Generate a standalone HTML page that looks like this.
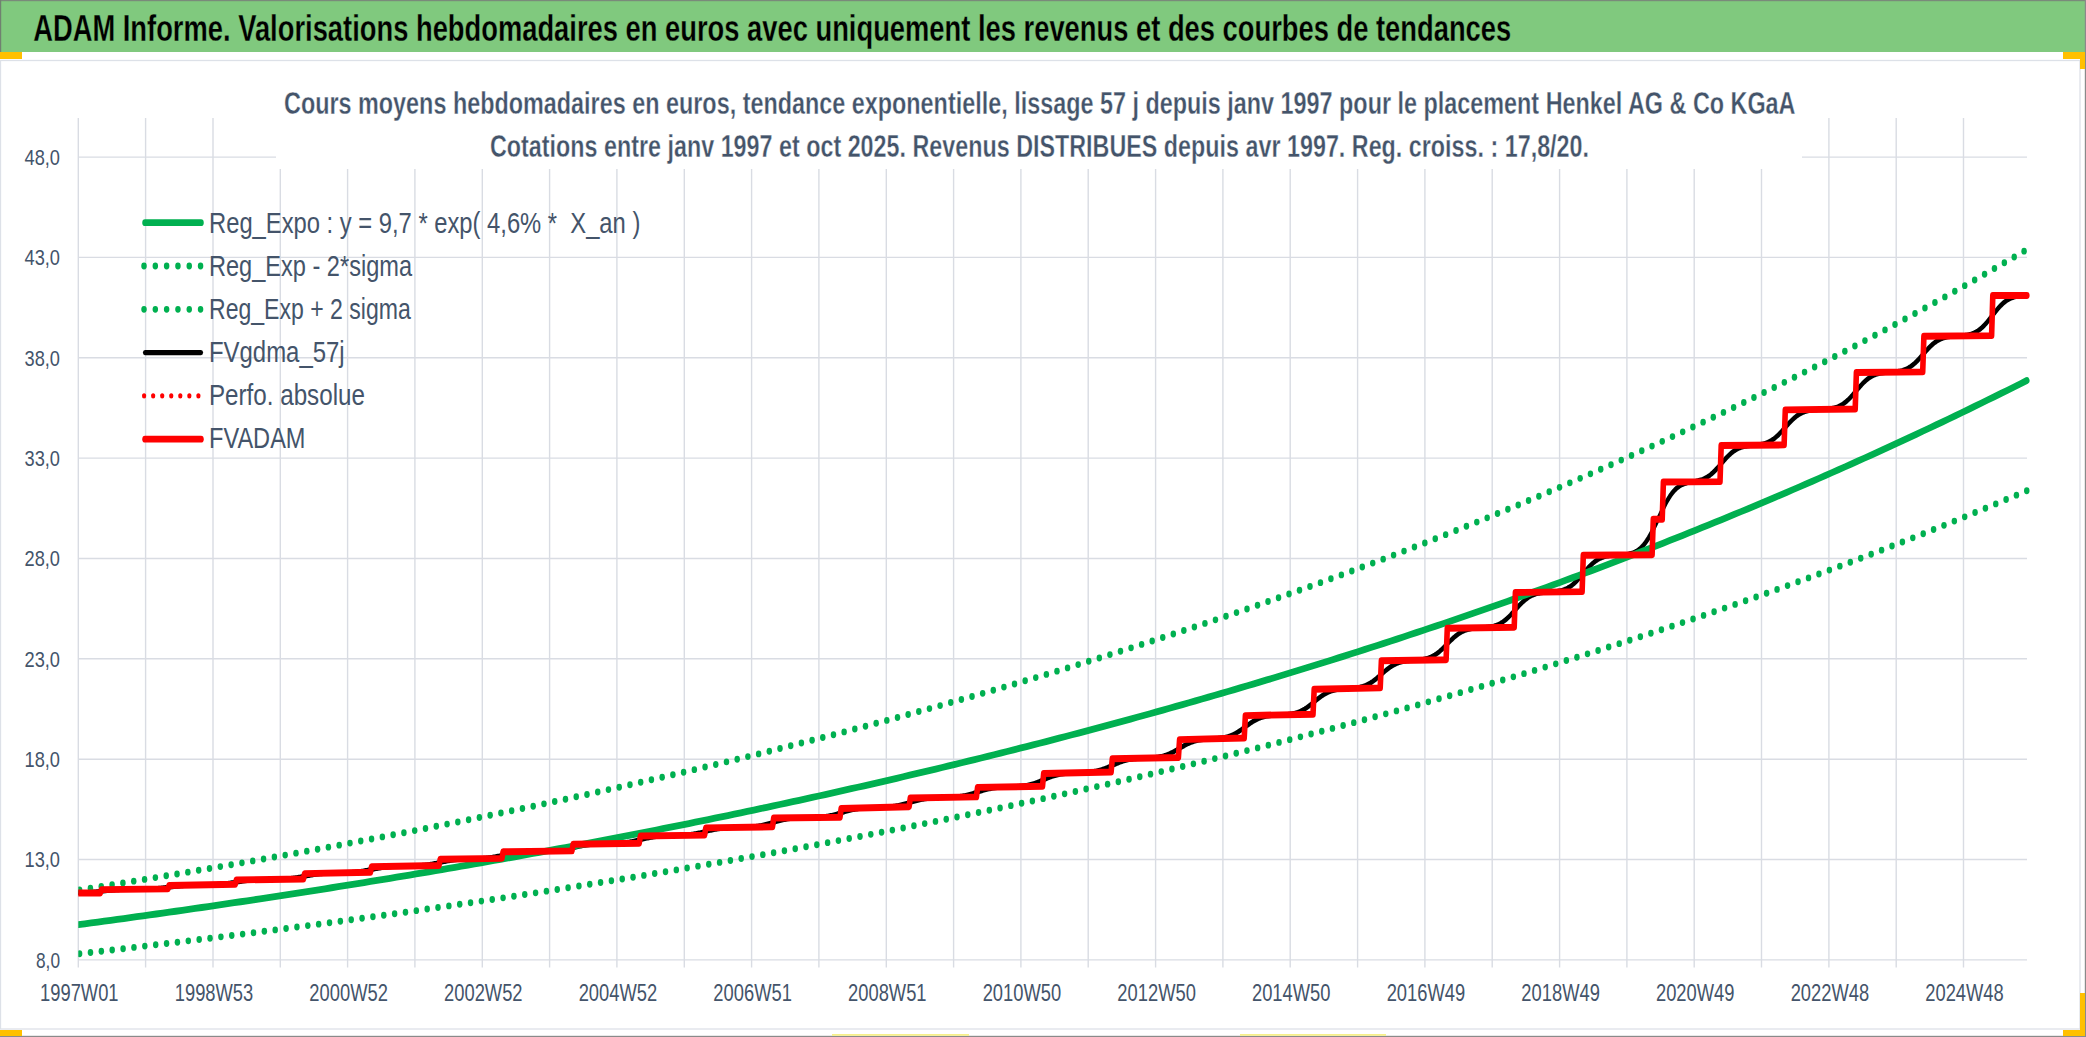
<!DOCTYPE html>
<html><head><meta charset="utf-8"><style>
html,body{margin:0;padding:0;background:#fff;}
body{width:2086px;height:1037px;overflow:hidden;position:relative;}
svg{position:absolute;left:0;top:0;font-family:"Liberation Sans",sans-serif;}
</style></head><body>
<svg width="2086" height="1037" viewBox="0 0 2086 1037">
<rect x="0" y="0" width="2086" height="1037" fill="#fff"/>
<!-- header -->
<rect x="0" y="0" width="2086" height="52" fill="#80C97E"/>
<rect x="0" y="0" width="2086" height="1.2" fill="#7a8a7a"/>
<rect x="0" y="0" width="1.2" height="52" fill="#708070"/>
<rect x="2084.8" y="0" width="1.2" height="1037" fill="#8a8a8a"/>
<rect x="0" y="1035.8" width="2086" height="1.2" fill="#8a8a8a"/>
<text x="33.2" y="41" font-size="36.3" font-weight="bold" fill="#000" stroke="#80C97E" stroke-width="0.3" textLength="1478" lengthAdjust="spacingAndGlyphs">ADAM Informe. Valorisations hebdomadaires en euros avec uniquement les revenus et des courbes de tendances</text>
<!-- chart border -->
<rect x="0.5" y="60.5" width="2079.5" height="968.5" fill="none" stroke="#DDE1E8" stroke-width="1.3"/>
<rect x="0" y="52" width="22" height="7" fill="#FFC000"/>
<rect x="2063" y="52" width="22" height="7" fill="#FFC000"/>
<rect x="2080" y="52" width="5" height="17" fill="#FFC000"/>
<rect x="0" y="1030" width="22" height="6" fill="#FFC000"/>
<rect x="2063" y="1030" width="22" height="6" fill="#FFC000"/>
<rect x="2080" y="993" width="5" height="43" fill="#FFC000"/>
<rect x="832" y="1034" width="137" height="1.8" fill="#F7F08A"/>
<rect x="1240" y="1034" width="146" height="1.8" fill="#F7F08A"/>
<!-- grid -->
<g stroke="#D9DCE3" stroke-width="1.4" fill="none">
<line x1="78.3" y1="118" x2="78.3" y2="967.5" />
<line x1="145.6" y1="118" x2="145.6" y2="967.5" />
<line x1="213.0" y1="118" x2="213.0" y2="967.5" />
<line x1="280.3" y1="169" x2="280.3" y2="967.5" />
<line x1="347.6" y1="169" x2="347.6" y2="967.5" />
<line x1="414.9" y1="169" x2="414.9" y2="967.5" />
<line x1="482.3" y1="169" x2="482.3" y2="967.5" />
<line x1="549.6" y1="169" x2="549.6" y2="967.5" />
<line x1="616.9" y1="169" x2="616.9" y2="967.5" />
<line x1="684.3" y1="169" x2="684.3" y2="967.5" />
<line x1="751.6" y1="169" x2="751.6" y2="967.5" />
<line x1="818.9" y1="169" x2="818.9" y2="967.5" />
<line x1="886.3" y1="169" x2="886.3" y2="967.5" />
<line x1="953.6" y1="169" x2="953.6" y2="967.5" />
<line x1="1020.9" y1="169" x2="1020.9" y2="967.5" />
<line x1="1088.2" y1="169" x2="1088.2" y2="967.5" />
<line x1="1155.6" y1="169" x2="1155.6" y2="967.5" />
<line x1="1222.9" y1="169" x2="1222.9" y2="967.5" />
<line x1="1290.2" y1="169" x2="1290.2" y2="967.5" />
<line x1="1357.6" y1="169" x2="1357.6" y2="967.5" />
<line x1="1424.9" y1="169" x2="1424.9" y2="967.5" />
<line x1="1492.2" y1="169" x2="1492.2" y2="967.5" />
<line x1="1559.6" y1="169" x2="1559.6" y2="967.5" />
<line x1="1626.9" y1="169" x2="1626.9" y2="967.5" />
<line x1="1694.2" y1="169" x2="1694.2" y2="967.5" />
<line x1="1761.5" y1="169" x2="1761.5" y2="967.5" />
<line x1="1828.9" y1="118" x2="1828.9" y2="967.5" />
<line x1="1896.2" y1="118" x2="1896.2" y2="967.5" />
<line x1="1963.5" y1="118" x2="1963.5" y2="967.5" />
<line x1="78" y1="959.9" x2="2027" y2="959.9" />
<line x1="78" y1="859.5" x2="2027" y2="859.5" />
<line x1="78" y1="759.2" x2="2027" y2="759.2" />
<line x1="78" y1="658.8" x2="2027" y2="658.8" />
<line x1="78" y1="558.5" x2="2027" y2="558.5" />
<line x1="78" y1="458.1" x2="2027" y2="458.1" />
<line x1="78" y1="357.8" x2="2027" y2="357.8" />
<line x1="78" y1="257.4" x2="2027" y2="257.4" />
<line x1="78" y1="157.1" x2="276" y2="157.1" />
<line x1="1802" y1="157.1" x2="2027" y2="157.1" />
</g>
<!-- title -->
<text x="284" y="113.9" font-size="31.8" font-weight="bold" fill="#44546A" stroke="#fff" stroke-width="0.35" textLength="1511.5" lengthAdjust="spacingAndGlyphs">Cours moyens hebdomadaires en euros, tendance exponentielle, lissage 57 j depuis janv 1997 pour le placement Henkel AG &amp; Co KGaA</text>
<text x="490" y="157" font-size="30.6" font-weight="bold" fill="#44546A" stroke="#fff" stroke-width="0.35" textLength="1099" lengthAdjust="spacingAndGlyphs">Cotations entre janv 1997 et oct 2025. Revenus DISTRIBUES depuis avr 1997.  Reg. croiss. : 17,8/20.</text>
<text x="60" y="967.7" text-anchor="end" font-size="22.3" fill="#44546A" textLength="24" lengthAdjust="spacingAndGlyphs">8,0</text>
<text x="60" y="867.3" text-anchor="end" font-size="22.3" fill="#44546A" textLength="35.5" lengthAdjust="spacingAndGlyphs">13,0</text>
<text x="60" y="767.0" text-anchor="end" font-size="22.3" fill="#44546A" textLength="35.5" lengthAdjust="spacingAndGlyphs">18,0</text>
<text x="60" y="666.6" text-anchor="end" font-size="22.3" fill="#44546A" textLength="35.5" lengthAdjust="spacingAndGlyphs">23,0</text>
<text x="60" y="566.3" text-anchor="end" font-size="22.3" fill="#44546A" textLength="35.5" lengthAdjust="spacingAndGlyphs">28,0</text>
<text x="60" y="465.9" text-anchor="end" font-size="22.3" fill="#44546A" textLength="35.5" lengthAdjust="spacingAndGlyphs">33,0</text>
<text x="60" y="365.6" text-anchor="end" font-size="22.3" fill="#44546A" textLength="35.5" lengthAdjust="spacingAndGlyphs">38,0</text>
<text x="60" y="265.2" text-anchor="end" font-size="22.3" fill="#44546A" textLength="35.5" lengthAdjust="spacingAndGlyphs">43,0</text>
<text x="60" y="164.9" text-anchor="end" font-size="22.3" fill="#44546A" textLength="35.5" lengthAdjust="spacingAndGlyphs">48,0</text>
<text x="79.3" y="1000.9" text-anchor="middle" font-size="23" fill="#44546A" textLength="78.5" lengthAdjust="spacingAndGlyphs">1997W01</text>
<text x="214.0" y="1000.9" text-anchor="middle" font-size="23" fill="#44546A" textLength="78.5" lengthAdjust="spacingAndGlyphs">1998W53</text>
<text x="348.6" y="1000.9" text-anchor="middle" font-size="23" fill="#44546A" textLength="78.5" lengthAdjust="spacingAndGlyphs">2000W52</text>
<text x="483.3" y="1000.9" text-anchor="middle" font-size="23" fill="#44546A" textLength="78.5" lengthAdjust="spacingAndGlyphs">2002W52</text>
<text x="617.9" y="1000.9" text-anchor="middle" font-size="23" fill="#44546A" textLength="78.5" lengthAdjust="spacingAndGlyphs">2004W52</text>
<text x="752.6" y="1000.9" text-anchor="middle" font-size="23" fill="#44546A" textLength="78.5" lengthAdjust="spacingAndGlyphs">2006W51</text>
<text x="887.3" y="1000.9" text-anchor="middle" font-size="23" fill="#44546A" textLength="78.5" lengthAdjust="spacingAndGlyphs">2008W51</text>
<text x="1021.9" y="1000.9" text-anchor="middle" font-size="23" fill="#44546A" textLength="78.5" lengthAdjust="spacingAndGlyphs">2010W50</text>
<text x="1156.6" y="1000.9" text-anchor="middle" font-size="23" fill="#44546A" textLength="78.5" lengthAdjust="spacingAndGlyphs">2012W50</text>
<text x="1291.2" y="1000.9" text-anchor="middle" font-size="23" fill="#44546A" textLength="78.5" lengthAdjust="spacingAndGlyphs">2014W50</text>
<text x="1425.9" y="1000.9" text-anchor="middle" font-size="23" fill="#44546A" textLength="78.5" lengthAdjust="spacingAndGlyphs">2016W49</text>
<text x="1560.6" y="1000.9" text-anchor="middle" font-size="23" fill="#44546A" textLength="78.5" lengthAdjust="spacingAndGlyphs">2018W49</text>
<text x="1695.2" y="1000.9" text-anchor="middle" font-size="23" fill="#44546A" textLength="78.5" lengthAdjust="spacingAndGlyphs">2020W49</text>
<text x="1829.9" y="1000.9" text-anchor="middle" font-size="23" fill="#44546A" textLength="78.5" lengthAdjust="spacingAndGlyphs">2022W48</text>
<text x="1964.5" y="1000.9" text-anchor="middle" font-size="23" fill="#44546A" textLength="78.5" lengthAdjust="spacingAndGlyphs">2024W48</text>
<text x="209" y="232.7" font-size="29.8" fill="#44546A" textLength="431.3" lengthAdjust="spacingAndGlyphs" xml:space="preserve">Reg_Expo : y = 9,7 * exp( 4,6% *  X_an )</text>
<line x1="145" y1="179.60" x2="201" y2="179.60" stroke="#00B050" stroke-width="5.5" stroke-linecap="round" transform="scale(1,1.24)"/>
<text x="209" y="275.8" font-size="29.8" fill="#44546A" textLength="203.0" lengthAdjust="spacingAndGlyphs" xml:space="preserve">Reg_Exp - 2*sigma</text>
<line x1="144" y1="214.52" x2="202" y2="214.52" stroke="#00B050" stroke-width="5.5" stroke-linecap="round" stroke-dasharray="0.01 11.3" transform="scale(1,1.24)"/>
<text x="209" y="318.9" font-size="29.8" fill="#44546A" textLength="201.8" lengthAdjust="spacingAndGlyphs" xml:space="preserve">Reg_Exp + 2 sigma</text>
<line x1="144" y1="249.44" x2="202" y2="249.44" stroke="#00B050" stroke-width="5.5" stroke-linecap="round" stroke-dasharray="0.01 11.3" transform="scale(1,1.24)"/>
<text x="209" y="362.1" font-size="29.8" fill="#44546A" textLength="135.6" lengthAdjust="spacingAndGlyphs" xml:space="preserve">FVgdma_57j</text>
<line x1="145" y1="284.35" x2="201" y2="284.35" stroke="#000" stroke-width="4.2" stroke-linecap="round" transform="scale(1,1.24)"/>
<text x="209" y="405.2" font-size="29.8" fill="#44546A" textLength="155.9" lengthAdjust="spacingAndGlyphs" xml:space="preserve">Perfo. absolue</text>
<g fill="#FF0000"><ellipse cx="144.10" cy="395.90" rx="2.1" ry="2.7"/><ellipse cx="153.15" cy="395.90" rx="2.1" ry="2.7"/><ellipse cx="162.20" cy="395.90" rx="2.1" ry="2.7"/><ellipse cx="171.25" cy="395.90" rx="2.1" ry="2.7"/><ellipse cx="180.30" cy="395.90" rx="2.1" ry="2.7"/><ellipse cx="189.35" cy="395.90" rx="2.1" ry="2.7"/><ellipse cx="198.40" cy="395.90" rx="2.1" ry="2.7"/></g>
<text x="209" y="448.3" font-size="29.8" fill="#44546A" textLength="96.5" lengthAdjust="spacingAndGlyphs" xml:space="preserve">FVADAM</text>
<line x1="145" y1="354.19" x2="201" y2="354.19" stroke="#FF0000" stroke-width="5.5" stroke-linecap="round" transform="scale(1,1.24)"/>
<!-- series -->
<defs><clipPath id="pc"><rect x="78.3" y="100" width="1960" height="880"/></clipPath></defs>
<g clip-path="url(#pc)">
<g transform="scale(1,1.24)" fill="none" stroke-linejoin="round" stroke-linecap="round">
<path d="M78.80,720.07 L79.80,720.05 L80.80,720.02 L81.80,720.00 L82.80,719.97 L83.80,719.94 L84.80,719.90 L85.80,719.86 L86.80,719.82 L87.80,719.77 L88.80,719.72 L89.80,719.66 L90.80,719.60 L91.80,719.54 L92.80,719.47 L93.80,719.39 L94.80,719.32 L95.80,719.24 L96.80,719.15 L97.80,719.07 L98.80,718.98 L99.80,718.89 L100.80,718.80 L101.80,718.70 L102.80,718.61 L103.80,718.52 L104.80,718.43 L105.80,718.34 L106.80,718.25 L107.80,718.17 L108.80,718.09 L109.80,718.01 L110.80,717.94 L111.80,717.87 L112.80,717.80 L113.80,717.74 L114.80,717.68 L115.80,717.63 L116.80,717.58 L117.80,717.53 L118.80,717.49 L119.80,717.45 L120.80,717.41 L121.80,717.38 L122.80,717.35 L123.80,717.33 L124.80,717.30 L125.80,717.28 L126.80,717.26 L127.80,717.24 L128.80,717.22 L129.80,717.21 L130.80,717.19 L131.80,717.18 L132.80,717.17 L133.80,717.15 L134.80,717.14 L135.80,717.13 L136.80,717.12 L137.80,717.10 L138.80,717.09 L139.80,717.08 L140.80,717.06 L141.80,717.05 L142.80,717.03 L143.80,717.01 L144.80,716.99 L145.80,716.97 L146.80,716.94 L147.80,716.92 L148.80,716.89 L149.80,716.85 L150.80,716.82 L151.80,716.78 L152.80,716.73 L153.80,716.69 L154.80,716.63 L155.80,716.58 L156.80,716.52 L157.80,716.45 L158.80,716.38 L159.80,716.31 L160.80,716.23 L161.80,716.15 L162.80,716.07 L163.80,715.98 L164.80,715.89 L165.80,715.79 L166.80,715.70 L167.80,715.60 L168.80,715.50 L169.80,715.40 L170.80,715.30 L171.80,715.20 L172.80,715.11 L173.80,715.01 L174.80,714.92 L175.80,714.83 L176.80,714.74 L177.80,714.65 L178.80,714.57 L179.80,714.50 L180.80,714.42 L181.80,714.36 L182.80,714.29 L183.80,714.23 L184.80,714.17 L185.80,714.12 L186.80,714.07 L187.80,714.03 L188.80,713.99 L189.80,713.95 L190.80,713.91 L191.80,713.88 L192.80,713.85 L193.80,713.82 L194.80,713.79 L195.80,713.77 L196.80,713.75 L197.80,713.73 L198.80,713.71 L199.80,713.68 L200.80,713.66 L201.80,713.64 L202.80,713.62 L203.80,713.60 L204.80,713.58 L205.80,713.56 L206.80,713.54 L207.80,713.52 L208.80,713.50 L209.80,713.47 L210.80,713.44 L211.80,713.41 L212.80,713.38 L213.80,713.35 L214.80,713.31 L215.80,713.27 L216.80,713.22 L217.80,713.17 L218.80,713.12 L219.80,713.06 L220.80,712.99 L221.80,712.92 L222.80,712.85 L223.80,712.77 L224.80,712.68 L225.80,712.59 L226.80,712.50 L227.80,712.40 L228.80,712.29 L229.80,712.18 L230.80,712.07 L231.80,711.95 L232.80,711.83 L233.80,711.70 L234.80,711.58 L235.80,711.45 L236.80,711.33 L237.80,711.20 L238.80,711.08 L239.80,710.95 L240.80,710.83 L241.80,710.72 L242.80,710.60 L243.80,710.50 L244.80,710.39 L245.80,710.29 L246.80,710.20 L247.80,710.11 L248.80,710.03 L249.80,709.95 L250.80,709.88 L251.80,709.81 L252.80,709.75 L253.80,709.69 L254.80,709.64 L255.80,709.60 L256.80,709.55 L257.80,709.52 L258.80,709.48 L259.80,709.45 L260.80,709.42 L261.80,709.39 L262.80,709.37 L263.80,709.35 L264.80,709.33 L265.80,709.31 L266.80,709.29 L267.80,709.28 L268.80,709.26 L269.80,709.24 L270.80,709.22 L271.80,709.21 L272.80,709.19 L273.80,709.17 L274.80,709.15 L275.80,709.13 L276.80,709.11 L277.80,709.09 L278.80,709.06 L279.80,709.03 L280.80,709.00 L281.80,708.96 L282.80,708.92 L283.80,708.88 L284.80,708.83 L285.80,708.77 L286.80,708.71 L287.80,708.64 L288.80,708.57 L289.80,708.49 L290.80,708.41 L291.80,708.31 L292.80,708.22 L293.80,708.11 L294.80,708.00 L295.80,707.88 L296.80,707.75 L297.80,707.62 L298.80,707.48 L299.80,707.34 L300.80,707.20 L301.80,707.05 L302.80,706.90 L303.80,706.75 L304.80,706.60 L305.80,706.44 L306.80,706.29 L307.80,706.14 L308.80,706.00 L309.80,705.85 L310.80,705.72 L311.80,705.58 L312.80,705.45 L313.80,705.33 L314.80,705.22 L315.80,705.11 L316.80,705.01 L317.80,704.91 L318.80,704.82 L319.80,704.74 L320.80,704.66 L321.80,704.59 L322.80,704.53 L323.80,704.47 L324.80,704.41 L325.80,704.36 L326.80,704.32 L327.80,704.28 L328.80,704.24 L329.80,704.20 L330.80,704.17 L331.80,704.14 L332.80,704.12 L333.80,704.09 L334.80,704.07 L335.80,704.04 L336.80,704.02 L337.80,703.99 L338.80,703.97 L339.80,703.95 L340.80,703.92 L341.80,703.90 L342.80,703.87 L343.80,703.84 L344.80,703.81 L345.80,703.78 L346.80,703.75 L347.80,703.71 L348.80,703.67 L349.80,703.62 L350.80,703.57 L351.80,703.51 L352.80,703.45 L353.80,703.39 L354.80,703.31 L355.80,703.23 L356.80,703.15 L357.80,703.06 L358.80,702.96 L359.80,702.85 L360.80,702.74 L361.80,702.62 L362.80,702.49 L363.80,702.36 L364.80,702.22 L365.80,702.07 L366.80,701.92 L367.80,701.77 L368.80,701.62 L369.80,701.46 L370.80,701.30 L371.80,701.14 L372.80,700.98 L373.80,700.82 L374.80,700.67 L375.80,700.52 L376.80,700.37 L377.80,700.23 L378.80,700.09 L379.80,699.96 L380.80,699.83 L381.80,699.71 L382.80,699.60 L383.80,699.49 L384.80,699.39 L385.80,699.30 L386.80,699.22 L387.80,699.14 L388.80,699.07 L389.80,699.00 L390.80,698.94 L391.80,698.89 L392.80,698.84 L393.80,698.79 L394.80,698.75 L395.80,698.72 L396.80,698.68 L397.80,698.65 L398.80,698.62 L399.80,698.60 L400.80,698.57 L401.80,698.55 L402.80,698.53 L403.80,698.51 L404.80,698.49 L405.80,698.47 L406.80,698.45 L407.80,698.42 L408.80,698.40 L409.80,698.38 L410.80,698.36 L411.80,698.33 L412.80,698.31 L413.80,698.28 L414.80,698.24 L415.80,698.21 L416.80,698.17 L417.80,698.13 L418.80,698.08 L419.80,698.02 L420.80,697.97 L421.80,697.90 L422.80,697.83 L423.80,697.75 L424.80,697.67 L425.80,697.58 L426.80,697.48 L427.80,697.37 L428.80,697.26 L429.80,697.13 L430.80,697.01 L431.80,696.87 L432.80,696.72 L433.80,696.57 L434.80,696.42 L435.80,696.26 L436.80,696.09 L437.80,695.92 L438.80,695.75 L439.80,695.58 L440.80,695.41 L441.80,695.24 L442.80,695.06 L443.80,694.90 L444.80,694.73 L445.80,694.57 L446.80,694.42 L447.80,694.27 L448.80,694.13 L449.80,693.99 L450.80,693.86 L451.80,693.74 L452.80,693.63 L453.80,693.52 L454.80,693.43 L455.80,693.34 L456.80,693.25 L457.80,693.18 L458.80,693.11 L459.80,693.05 L460.80,692.99 L461.80,692.94 L462.80,692.90 L463.80,692.85 L464.80,692.82 L465.80,692.78 L466.80,692.75 L467.80,692.72 L468.80,692.69 L469.80,692.67 L470.80,692.64 L471.80,692.62 L472.80,692.59 L473.80,692.57 L474.80,692.54 L475.80,692.51 L476.80,692.48 L477.80,692.45 L478.80,692.41 L479.80,692.37 L480.80,692.33 L481.80,692.28 L482.80,692.23 L483.80,692.17 L484.80,692.11 L485.80,692.03 L486.80,691.95 L487.80,691.87 L488.80,691.77 L489.80,691.67 L490.80,691.56 L491.80,691.44 L492.80,691.32 L493.80,691.18 L494.80,691.04 L495.80,690.89 L496.80,690.73 L497.80,690.57 L498.80,690.40 L499.80,690.23 L500.80,690.05 L501.80,689.87 L502.80,689.69 L503.80,689.51 L504.80,689.33 L505.80,689.15 L506.80,688.97 L507.80,688.80 L508.80,688.63 L509.80,688.47 L510.80,688.31 L511.80,688.16 L512.80,688.02 L513.80,687.89 L514.80,687.76 L515.80,687.64 L516.80,687.53 L517.80,687.43 L518.80,687.34 L519.80,687.25 L520.80,687.17 L521.80,687.10 L522.80,687.04 L523.80,686.98 L524.80,686.93 L525.80,686.88 L526.80,686.84 L527.80,686.80 L528.80,686.77 L529.80,686.74 L530.80,686.71 L531.80,686.69 L532.80,686.67 L533.80,686.65 L534.80,686.63 L535.80,686.61 L536.80,686.60 L537.80,686.58 L538.80,686.56 L539.80,686.54 L540.80,686.53 L541.80,686.51 L542.80,686.49 L543.80,686.47 L544.80,686.45 L545.80,686.42 L546.80,686.40 L547.80,686.37 L548.80,686.33 L549.80,686.29 L550.80,686.25 L551.80,686.21 L552.80,686.15 L553.80,686.09 L554.80,686.03 L555.80,685.96 L556.80,685.88 L557.80,685.79 L558.80,685.70 L559.80,685.59 L560.80,685.48 L561.80,685.36 L562.80,685.24 L563.80,685.10 L564.80,684.96 L565.80,684.81 L566.80,684.65 L567.80,684.48 L568.80,684.31 L569.80,684.14 L570.80,683.96 L571.80,683.78 L572.80,683.59 L573.80,683.41 L574.80,683.23 L575.80,683.05 L576.80,682.87 L577.80,682.69 L578.80,682.52 L579.80,682.36 L580.80,682.20 L581.80,682.05 L582.80,681.90 L583.80,681.77 L584.80,681.64 L585.80,681.52 L586.80,681.41 L587.80,681.31 L588.80,681.21 L589.80,681.12 L590.80,681.04 L591.80,680.97 L592.80,680.91 L593.80,680.85 L594.80,680.80 L595.80,680.75 L596.80,680.71 L597.80,680.67 L598.80,680.63 L599.80,680.60 L600.80,680.57 L601.80,680.55 L602.80,680.53 L603.80,680.50 L604.80,680.48 L605.80,680.46 L606.80,680.44 L607.80,680.42 L608.80,680.40 L609.80,680.38 L610.80,680.35 L611.80,680.33 L612.80,680.30 L613.80,680.28 L614.80,680.24 L615.80,680.21 L616.80,680.17 L617.80,680.12 L618.80,680.07 L619.80,680.02 L620.80,679.95 L621.80,679.88 L622.80,679.81 L623.80,679.72 L624.80,679.63 L625.80,679.53 L626.80,679.42 L627.80,679.30 L628.80,679.17 L629.80,679.03 L630.80,678.89 L631.80,678.73 L632.80,678.57 L633.80,678.40 L634.80,678.22 L635.80,678.04 L636.80,677.85 L637.80,677.66 L638.80,677.47 L639.80,677.27 L640.80,677.07 L641.80,676.87 L642.80,676.68 L643.80,676.49 L644.80,676.30 L645.80,676.12 L646.80,675.94 L647.80,675.77 L648.80,675.60 L649.80,675.45 L650.80,675.30 L651.80,675.16 L652.80,675.03 L653.80,674.91 L654.80,674.80 L655.80,674.70 L656.80,674.61 L657.80,674.52 L658.80,674.44 L659.80,674.37 L660.80,674.31 L661.80,674.25 L662.80,674.20 L663.80,674.15 L664.80,674.11 L665.80,674.07 L666.80,674.04 L667.80,674.01 L668.80,673.98 L669.80,673.95 L670.80,673.92 L671.80,673.90 L672.80,673.87 L673.80,673.85 L674.80,673.82 L675.80,673.80 L676.80,673.77 L677.80,673.74 L678.80,673.71 L679.80,673.67 L680.80,673.64 L681.80,673.60 L682.80,673.55 L683.80,673.50 L684.80,673.44 L685.80,673.38 L686.80,673.30 L687.80,673.23 L688.80,673.14 L689.80,673.05 L690.80,672.94 L691.80,672.83 L692.80,672.71 L693.80,672.58 L694.80,672.44 L695.80,672.29 L696.80,672.14 L697.80,671.98 L698.80,671.80 L699.80,671.63 L700.80,671.44 L701.80,671.25 L702.80,671.06 L703.80,670.86 L704.80,670.67 L705.80,670.47 L706.80,670.27 L707.80,670.07 L708.80,669.88 L709.80,669.69 L710.80,669.51 L711.80,669.33 L712.80,669.16 L713.80,668.99 L714.80,668.83 L715.80,668.69 L716.80,668.55 L717.80,668.42 L718.80,668.30 L719.80,668.18 L720.80,668.08 L721.80,667.99 L722.80,667.90 L723.80,667.82 L724.80,667.75 L725.80,667.68 L726.80,667.63 L727.80,667.57 L728.80,667.53 L729.80,667.48 L730.80,667.45 L731.80,667.41 L732.80,667.38 L733.80,667.35 L734.80,667.33 L735.80,667.30 L736.80,667.28 L737.80,667.25 L738.80,667.23 L739.80,667.21 L740.80,667.18 L741.80,667.16 L742.80,667.13 L743.80,667.11 L744.80,667.08 L745.80,667.05 L746.80,667.01 L747.80,666.97 L748.80,666.93 L749.80,666.88 L750.80,666.83 L751.80,666.77 L752.80,666.70 L753.80,666.62 L754.80,666.54 L755.80,666.44 L756.80,666.34 L757.80,666.23 L758.80,666.10 L759.80,665.97 L760.80,665.83 L761.80,665.67 L762.80,665.50 L763.80,665.33 L764.80,665.14 L765.80,664.94 L766.80,664.74 L767.80,664.52 L768.80,664.30 L769.80,664.07 L770.80,663.84 L771.80,663.60 L772.80,663.37 L773.80,663.13 L774.80,662.89 L775.80,662.65 L776.80,662.42 L777.80,662.20 L778.80,661.98 L779.80,661.76 L780.80,661.56 L781.80,661.36 L782.80,661.18 L783.80,661.00 L784.80,660.84 L785.80,660.68 L786.80,660.54 L787.80,660.41 L788.80,660.29 L789.80,660.18 L790.80,660.08 L791.80,659.99 L792.80,659.91 L793.80,659.83 L794.80,659.77 L795.80,659.71 L796.80,659.66 L797.80,659.61 L798.80,659.57 L799.80,659.54 L800.80,659.51 L801.80,659.48 L802.80,659.45 L803.80,659.43 L804.80,659.41 L805.80,659.39 L806.80,659.37 L807.80,659.34 L808.80,659.32 L809.80,659.30 L810.80,659.28 L811.80,659.26 L812.80,659.23 L813.80,659.20 L814.80,659.17 L815.80,659.14 L816.80,659.10 L817.80,659.05 L818.80,659.00 L819.80,658.94 L820.80,658.87 L821.80,658.80 L822.80,658.72 L823.80,658.63 L824.80,658.53 L825.80,658.42 L826.80,658.30 L827.80,658.16 L828.80,658.02 L829.80,657.87 L830.80,657.70 L831.80,657.52 L832.80,657.34 L833.80,657.14 L834.80,656.93 L835.80,656.72 L836.80,656.49 L837.80,656.26 L838.80,656.03 L839.80,655.79 L840.80,655.55 L841.80,655.31 L842.80,655.07 L843.80,654.83 L844.80,654.59 L845.80,654.36 L846.80,654.13 L847.80,653.91 L848.80,653.70 L849.80,653.50 L850.80,653.31 L851.80,653.13 L852.80,652.95 L853.80,652.79 L854.80,652.64 L855.80,652.50 L856.80,652.37 L857.80,652.25 L858.80,652.14 L859.80,652.05 L860.80,651.95 L861.80,651.87 L862.80,651.80 L863.80,651.73 L864.80,651.67 L865.80,651.61 L866.80,651.56 L867.80,651.52 L868.80,651.47 L869.80,651.44 L870.80,651.40 L871.80,651.37 L872.80,651.34 L873.80,651.31 L874.80,651.28 L875.80,651.25 L876.80,651.22 L877.80,651.19 L878.80,651.16 L879.80,651.13 L880.80,651.09 L881.80,651.06 L882.80,651.02 L883.80,650.98 L884.80,650.93 L885.80,650.88 L886.80,650.83 L887.80,650.77 L888.80,650.70 L889.80,650.63 L890.80,650.54 L891.80,650.45 L892.80,650.35 L893.80,650.25 L894.80,650.13 L895.80,650.00 L896.80,649.86 L897.80,649.71 L898.80,649.55 L899.80,649.38 L900.80,649.20 L901.80,649.01 L902.80,648.81 L903.80,648.60 L904.80,648.38 L905.80,648.15 L906.80,647.92 L907.80,647.69 L908.80,647.45 L909.80,647.21 L910.80,646.97 L911.80,646.73 L912.80,646.49 L913.80,646.26 L914.80,646.03 L915.80,645.80 L916.80,645.59 L917.80,645.38 L918.80,645.18 L919.80,645.00 L920.80,644.82 L921.80,644.65 L922.80,644.50 L923.80,644.35 L924.80,644.22 L925.80,644.09 L926.80,643.98 L927.80,643.88 L928.80,643.78 L929.80,643.70 L930.80,643.62 L931.80,643.56 L932.80,643.49 L933.80,643.44 L934.80,643.39 L935.80,643.35 L936.80,643.31 L937.80,643.27 L938.80,643.24 L939.80,643.21 L940.80,643.18 L941.80,643.16 L942.80,643.13 L943.80,643.10 L944.80,643.08 L945.80,643.05 L946.80,643.02 L947.80,642.99 L948.80,642.96 L949.80,642.93 L950.80,642.89 L951.80,642.85 L952.80,642.81 L953.80,642.75 L954.80,642.70 L955.80,642.63 L956.80,642.56 L957.80,642.48 L958.80,642.39 L959.80,642.28 L960.80,642.17 L961.80,642.05 L962.80,641.92 L963.80,641.78 L964.80,641.62 L965.80,641.45 L966.80,641.27 L967.80,641.08 L968.80,640.88 L969.80,640.67 L970.80,640.44 L971.80,640.21 L972.80,639.97 L973.80,639.73 L974.80,639.47 L975.80,639.22 L976.80,638.96 L977.80,638.70 L978.80,638.45 L979.80,638.19 L980.80,637.94 L981.80,637.69 L982.80,637.45 L983.80,637.22 L984.80,637.00 L985.80,636.78 L986.80,636.58 L987.80,636.39 L988.80,636.21 L989.80,636.04 L990.80,635.89 L991.80,635.74 L992.80,635.61 L993.80,635.49 L994.80,635.38 L995.80,635.28 L996.80,635.19 L997.80,635.10 L998.80,635.03 L999.80,634.97 L1000.80,634.91 L1001.80,634.86 L1002.80,634.81 L1003.80,634.77 L1004.80,634.73 L1005.80,634.70 L1006.80,634.66 L1007.80,634.63 L1008.80,634.60 L1009.80,634.57 L1010.80,634.54 L1011.80,634.50 L1012.80,634.47 L1013.80,634.44 L1014.80,634.40 L1015.80,634.36 L1016.80,634.31 L1017.80,634.26 L1018.80,634.20 L1019.80,634.14 L1020.80,634.06 L1021.80,633.98 L1022.80,633.88 L1023.80,633.78 L1024.80,633.66 L1025.80,633.53 L1026.80,633.38 L1027.80,633.22 L1028.80,633.05 L1029.80,632.86 L1030.80,632.65 L1031.80,632.43 L1032.80,632.19 L1033.80,631.94 L1034.80,631.67 L1035.80,631.39 L1036.80,631.09 L1037.80,630.78 L1038.80,630.46 L1039.80,630.13 L1040.80,629.79 L1041.80,629.45 L1042.80,629.11 L1043.80,628.76 L1044.80,628.42 L1045.80,628.08 L1046.80,627.74 L1047.80,627.41 L1048.80,627.09 L1049.80,626.78 L1050.80,626.48 L1051.80,626.19 L1052.80,625.92 L1053.80,625.66 L1054.80,625.42 L1055.80,625.20 L1056.80,624.99 L1057.80,624.80 L1058.80,624.62 L1059.80,624.45 L1060.80,624.31 L1061.80,624.17 L1062.80,624.05 L1063.80,623.94 L1064.80,623.84 L1065.80,623.76 L1066.80,623.68 L1067.80,623.61 L1068.80,623.55 L1069.80,623.49 L1070.80,623.44 L1071.80,623.40 L1072.80,623.36 L1073.80,623.32 L1074.80,623.29 L1075.80,623.25 L1076.80,623.22 L1077.80,623.19 L1078.80,623.15 L1079.80,623.12 L1080.80,623.09 L1081.80,623.05 L1082.80,623.02 L1083.80,622.98 L1084.80,622.93 L1085.80,622.88 L1086.80,622.82 L1087.80,622.76 L1088.80,622.69 L1089.80,622.61 L1090.80,622.52 L1091.80,622.42 L1092.80,622.30 L1093.80,622.18 L1094.80,622.04 L1095.80,621.89 L1096.80,621.72 L1097.80,621.54 L1098.80,621.34 L1099.80,621.12 L1100.80,620.89 L1101.80,620.64 L1102.80,620.38 L1103.80,620.10 L1104.80,619.80 L1105.80,619.49 L1106.80,619.17 L1107.80,618.84 L1108.80,618.50 L1109.80,618.15 L1110.80,617.80 L1111.80,617.44 L1112.80,617.08 L1113.80,616.72 L1114.80,616.37 L1115.80,616.02 L1116.80,615.68 L1117.80,615.35 L1118.80,615.03 L1119.80,614.72 L1120.80,614.43 L1121.80,614.15 L1122.80,613.88 L1123.80,613.64 L1124.80,613.40 L1125.80,613.19 L1126.80,612.99 L1127.80,612.81 L1128.80,612.64 L1129.80,612.49 L1130.80,612.35 L1131.80,612.23 L1132.80,612.11 L1133.80,612.01 L1134.80,611.93 L1135.80,611.85 L1136.80,611.78 L1137.80,611.71 L1138.80,611.66 L1139.80,611.61 L1140.80,611.56 L1141.80,611.52 L1142.80,611.48 L1143.80,611.44 L1144.80,611.40 L1145.80,611.36 L1146.80,611.32 L1147.80,611.28 L1148.80,611.24 L1149.80,611.19 L1150.80,611.14 L1151.80,611.09 L1152.80,611.03 L1153.80,610.96 L1154.80,610.88 L1155.80,610.79 L1156.80,610.69 L1157.80,610.58 L1158.80,610.45 L1159.80,610.30 L1160.80,610.14 L1161.80,609.96 L1162.80,609.76 L1163.80,609.54 L1164.80,609.30 L1165.80,609.04 L1166.80,608.75 L1167.80,608.45 L1168.80,608.12 L1169.80,607.77 L1170.80,607.39 L1171.80,607.00 L1172.80,606.59 L1173.80,606.17 L1174.80,605.72 L1175.80,605.27 L1176.80,604.80 L1177.80,604.33 L1178.80,603.86 L1179.80,603.38 L1180.80,602.90 L1181.80,602.43 L1182.80,601.97 L1183.80,601.51 L1184.80,601.07 L1185.80,600.64 L1186.80,600.23 L1187.80,599.84 L1188.80,599.46 L1189.80,599.11 L1190.80,598.78 L1191.80,598.47 L1192.80,598.18 L1193.80,597.92 L1194.80,597.68 L1195.80,597.45 L1196.80,597.25 L1197.80,597.07 L1198.80,596.91 L1199.80,596.76 L1200.80,596.63 L1201.80,596.51 L1202.80,596.41 L1203.80,596.31 L1204.80,596.23 L1205.80,596.16 L1206.80,596.10 L1207.80,596.04 L1208.80,595.98 L1209.80,595.93 L1210.80,595.87 L1211.80,595.82 L1212.80,595.77 L1213.80,595.72 L1214.80,595.66 L1215.80,595.60 L1216.80,595.54 L1217.80,595.47 L1218.80,595.40 L1219.80,595.31 L1220.80,595.21 L1221.80,595.10 L1222.80,594.98 L1223.80,594.84 L1224.80,594.67 L1225.80,594.49 L1226.80,594.29 L1227.80,594.07 L1228.80,593.82 L1229.80,593.55 L1230.80,593.25 L1231.80,592.92 L1232.80,592.56 L1233.80,592.18 L1234.80,591.77 L1235.80,591.33 L1236.80,590.86 L1237.80,590.38 L1238.80,589.86 L1239.80,589.33 L1240.80,588.78 L1241.80,588.21 L1242.80,587.63 L1243.80,587.04 L1244.80,586.45 L1245.80,585.85 L1246.80,585.26 L1247.80,584.67 L1248.80,584.09 L1249.80,583.53 L1250.80,582.98 L1251.80,582.44 L1252.80,581.93 L1253.80,581.45 L1254.80,580.98 L1255.80,580.55 L1256.80,580.14 L1257.80,579.76 L1258.80,579.41 L1259.80,579.08 L1260.80,578.78 L1261.80,578.51 L1262.80,578.27 L1263.80,578.05 L1264.80,577.85 L1265.80,577.67 L1266.80,577.52 L1267.80,577.38 L1268.80,577.26 L1269.80,577.15 L1270.80,577.06 L1271.80,576.98 L1272.80,576.90 L1273.80,576.84 L1274.80,576.79 L1275.80,576.74 L1276.80,576.70 L1277.80,576.65 L1278.80,576.61 L1279.80,576.57 L1280.80,576.52 L1281.80,576.48 L1282.80,576.43 L1283.80,576.39 L1284.80,576.34 L1285.80,576.28 L1286.80,576.21 L1287.80,576.13 L1288.80,576.04 L1289.80,575.94 L1290.80,575.82 L1291.80,575.69 L1292.80,575.53 L1293.80,575.36 L1294.80,575.17 L1295.80,574.95 L1296.80,574.70 L1297.80,574.43 L1298.80,574.13 L1299.80,573.80 L1300.80,573.44 L1301.80,573.04 L1302.80,572.62 L1303.80,572.16 L1304.80,571.68 L1305.80,571.16 L1306.80,570.62 L1307.80,570.05 L1308.80,569.46 L1309.80,568.85 L1310.80,568.21 L1311.80,567.57 L1312.80,566.92 L1313.80,566.25 L1314.80,565.59 L1315.80,564.93 L1316.80,564.27 L1317.80,563.63 L1318.80,563.00 L1319.80,562.39 L1320.80,561.79 L1321.80,561.22 L1322.80,560.68 L1323.80,560.16 L1324.80,559.68 L1325.80,559.22 L1326.80,558.80 L1327.80,558.41 L1328.80,558.05 L1329.80,557.71 L1330.80,557.41 L1331.80,557.14 L1332.80,556.90 L1333.80,556.68 L1334.80,556.48 L1335.80,556.31 L1336.80,556.15 L1337.80,556.02 L1338.80,555.90 L1339.80,555.80 L1340.80,555.71 L1341.80,555.63 L1342.80,555.56 L1343.80,555.50 L1344.80,555.44 L1345.80,555.38 L1346.80,555.33 L1347.80,555.28 L1348.80,555.22 L1349.80,555.17 L1350.80,555.11 L1351.80,555.05 L1352.80,554.98 L1353.80,554.91 L1354.80,554.83 L1355.80,554.73 L1356.80,554.62 L1357.80,554.50 L1358.80,554.35 L1359.80,554.19 L1360.80,554.00 L1361.80,553.79 L1362.80,553.56 L1363.80,553.29 L1364.80,553.00 L1365.80,552.68 L1366.80,552.32 L1367.80,551.93 L1368.80,551.51 L1369.80,551.05 L1370.80,550.56 L1371.80,550.04 L1372.80,549.49 L1373.80,548.90 L1374.80,548.29 L1375.80,547.65 L1376.80,546.99 L1377.80,546.31 L1378.80,545.62 L1379.80,544.91 L1380.80,544.20 L1381.80,543.48 L1382.80,542.77 L1383.80,542.07 L1384.80,541.37 L1385.80,540.70 L1386.80,540.04 L1387.80,539.40 L1388.80,538.79 L1389.80,538.20 L1390.80,537.65 L1391.80,537.13 L1392.80,536.64 L1393.80,536.18 L1394.80,535.76 L1395.80,535.37 L1396.80,535.02 L1397.80,534.70 L1398.80,534.41 L1399.80,534.15 L1400.80,533.91 L1401.80,533.70 L1402.80,533.52 L1403.80,533.36 L1404.80,533.22 L1405.80,533.09 L1406.80,532.98 L1407.80,532.89 L1408.80,532.81 L1409.80,532.74 L1410.80,532.67 L1411.80,532.60 L1412.80,532.54 L1413.80,532.48 L1414.80,532.42 L1415.80,532.36 L1416.80,532.29 L1417.80,532.22 L1418.80,532.15 L1419.80,532.07 L1420.80,531.97 L1421.80,531.87 L1422.80,531.74 L1423.80,531.60 L1424.80,531.44 L1425.80,531.25 L1426.80,531.04 L1427.80,530.80 L1428.80,530.53 L1429.80,530.23 L1430.80,529.89 L1431.80,529.52 L1432.80,529.11 L1433.80,528.67 L1434.80,528.18 L1435.80,527.65 L1436.80,527.09 L1437.80,526.48 L1438.80,525.84 L1439.80,525.17 L1440.80,524.46 L1441.80,523.72 L1442.80,522.96 L1443.80,522.18 L1444.80,521.37 L1445.80,520.56 L1446.80,519.73 L1447.80,518.91 L1448.80,518.09 L1449.80,517.27 L1450.80,516.47 L1451.80,515.68 L1452.80,514.92 L1453.80,514.18 L1454.80,513.48 L1455.80,512.80 L1456.80,512.16 L1457.80,511.56 L1458.80,511.00 L1459.80,510.47 L1460.80,509.99 L1461.80,509.54 L1462.80,509.13 L1463.80,508.76 L1464.80,508.43 L1465.80,508.13 L1466.80,507.86 L1467.80,507.62 L1468.80,507.41 L1469.80,507.23 L1470.80,507.06 L1471.80,506.92 L1472.80,506.80 L1473.80,506.70 L1474.80,506.61 L1475.80,506.53 L1476.80,506.46 L1477.80,506.40 L1478.80,506.34 L1479.80,506.29 L1480.80,506.23 L1481.80,506.18 L1482.80,506.12 L1483.80,506.06 L1484.80,506.00 L1485.80,505.94 L1486.80,505.87 L1487.80,505.78 L1488.80,505.68 L1489.80,505.57 L1490.80,505.43 L1491.80,505.28 L1492.80,505.10 L1493.80,504.90 L1494.80,504.67 L1495.80,504.41 L1496.80,504.12 L1497.80,503.79 L1498.80,503.42 L1499.80,503.01 L1500.80,502.57 L1501.80,502.08 L1502.80,501.54 L1503.80,500.97 L1504.80,500.35 L1505.80,499.69 L1506.80,498.98 L1507.80,498.24 L1508.80,497.46 L1509.80,496.65 L1510.80,495.82 L1511.80,494.95 L1512.80,494.07 L1513.80,493.18 L1514.80,492.27 L1515.80,491.37 L1516.80,490.46 L1517.80,489.57 L1518.80,488.69 L1519.80,487.82 L1520.80,486.99 L1521.80,486.18 L1522.80,485.40 L1523.80,484.66 L1524.80,483.96 L1525.80,483.30 L1526.80,482.68 L1527.80,482.10 L1528.80,481.57 L1529.80,481.08 L1530.80,480.63 L1531.80,480.23 L1532.80,479.86 L1533.80,479.53 L1534.80,479.24 L1535.80,478.98 L1536.80,478.75 L1537.80,478.55 L1538.80,478.38 L1539.80,478.22 L1540.80,478.09 L1541.80,477.98 L1542.80,477.88 L1543.80,477.80 L1544.80,477.73 L1545.80,477.66 L1546.80,477.60 L1547.80,477.54 L1548.80,477.48 L1549.80,477.43 L1550.80,477.37 L1551.80,477.31 L1552.80,477.25 L1553.80,477.18 L1554.80,477.11 L1555.80,477.02 L1556.80,476.92 L1557.80,476.80 L1558.80,476.66 L1559.80,476.51 L1560.80,476.32 L1561.80,476.11 L1562.80,475.87 L1563.80,475.60 L1564.80,475.30 L1565.80,474.96 L1566.80,474.57 L1567.80,474.15 L1568.80,473.68 L1569.80,473.17 L1570.80,472.62 L1571.80,472.02 L1572.80,471.37 L1573.80,470.68 L1574.80,469.95 L1575.80,469.17 L1576.80,468.36 L1577.80,467.52 L1578.80,466.65 L1579.80,465.75 L1580.80,464.83 L1581.80,463.89 L1582.80,462.95 L1583.80,462.00 L1584.80,461.06 L1585.80,460.13 L1586.80,459.21 L1587.80,458.31 L1588.80,457.44 L1589.80,456.60 L1590.80,455.79 L1591.80,455.02 L1592.80,454.28 L1593.80,453.60 L1594.80,452.95 L1595.80,452.35 L1596.80,451.80 L1597.80,451.29 L1598.80,450.83 L1599.80,450.41 L1600.80,450.03 L1601.80,449.69 L1602.80,449.39 L1603.80,449.12 L1604.80,448.89 L1605.80,448.68 L1606.80,448.50 L1607.80,448.35 L1608.80,448.21 L1609.80,448.10 L1610.80,448.00 L1611.80,447.92 L1612.80,447.85 L1613.80,447.79 L1614.80,447.74 L1615.80,447.69 L1616.80,447.65 L1617.80,447.60 L1618.80,447.56 L1619.80,447.51 L1620.80,447.47 L1621.80,447.43 L1622.80,447.38 L1623.80,447.32 L1624.80,447.25 L1625.80,447.17 L1626.80,447.06 L1627.80,446.94 L1628.80,446.79 L1629.80,446.61 L1630.80,446.41 L1631.80,446.17 L1632.80,445.90 L1633.80,445.58 L1634.80,445.22 L1635.80,444.81 L1636.80,444.35 L1637.80,443.83 L1638.80,443.25 L1639.80,442.60 L1640.80,441.89 L1641.80,441.10 L1642.80,440.24 L1643.80,439.30 L1644.80,438.29 L1645.80,437.20 L1646.80,436.03 L1647.80,434.79 L1648.80,433.47 L1649.80,432.08 L1650.80,430.63 L1651.80,429.11 L1652.80,427.55 L1653.80,425.93 L1654.80,424.27 L1655.80,422.58 L1656.80,420.86 L1657.80,419.13 L1658.80,417.40 L1659.80,415.67 L1660.80,413.94 L1661.80,412.25 L1662.80,410.58 L1663.80,408.95 L1664.80,407.36 L1665.80,405.83 L1666.80,404.36 L1667.80,402.95 L1668.80,401.62 L1669.80,400.35 L1670.80,399.16 L1671.80,398.05 L1672.80,397.01 L1673.80,396.05 L1674.80,395.17 L1675.80,394.37 L1676.80,393.63 L1677.80,392.97 L1678.80,392.37 L1679.80,391.84 L1680.80,391.36 L1681.80,390.94 L1682.80,390.57 L1683.80,390.25 L1684.80,389.95 L1685.80,389.69 L1686.80,389.46 L1687.80,389.26 L1688.80,389.08 L1689.80,388.91 L1690.80,388.76 L1691.80,388.62 L1692.80,388.49 L1693.80,388.35 L1694.80,388.21 L1695.80,388.07 L1696.80,387.90 L1697.80,387.73 L1698.80,387.53 L1699.80,387.31 L1700.80,387.07 L1701.80,386.81 L1702.80,386.51 L1703.80,386.17 L1704.80,385.80 L1705.80,385.38 L1706.80,384.92 L1707.80,384.42 L1708.80,383.87 L1709.80,383.28 L1710.80,382.65 L1711.80,381.96 L1712.80,381.24 L1713.80,380.48 L1714.80,379.68 L1715.80,378.84 L1716.80,377.98 L1717.80,377.09 L1718.80,376.18 L1719.80,375.25 L1720.80,374.32 L1721.80,373.39 L1722.80,372.45 L1723.80,371.53 L1724.80,370.62 L1725.80,369.73 L1726.80,368.86 L1727.80,368.03 L1728.80,367.22 L1729.80,366.46 L1730.80,365.73 L1731.80,365.05 L1732.80,364.41 L1733.80,363.82 L1734.80,363.27 L1735.80,362.76 L1736.80,362.30 L1737.80,361.88 L1738.80,361.51 L1739.80,361.17 L1740.80,360.87 L1741.80,360.60 L1742.80,360.37 L1743.80,360.16 L1744.80,359.98 L1745.80,359.82 L1746.80,359.69 L1747.80,359.57 L1748.80,359.46 L1749.80,359.37 L1750.80,359.28 L1751.80,359.19 L1752.80,359.11 L1753.80,359.04 L1754.80,358.96 L1755.80,358.87 L1756.80,358.79 L1757.80,358.69 L1758.80,358.58 L1759.80,358.47 L1760.80,358.34 L1761.80,358.18 L1762.80,358.01 L1763.80,357.81 L1764.80,357.58 L1765.80,357.32 L1766.80,357.03 L1767.80,356.70 L1768.80,356.33 L1769.80,355.92 L1770.80,355.47 L1771.80,354.98 L1772.80,354.45 L1773.80,353.87 L1774.80,353.25 L1775.80,352.58 L1776.80,351.88 L1777.80,351.13 L1778.80,350.35 L1779.80,349.53 L1780.80,348.69 L1781.80,347.82 L1782.80,346.94 L1783.80,346.04 L1784.80,345.13 L1785.80,344.21 L1786.80,343.30 L1787.80,342.40 L1788.80,341.51 L1789.80,340.65 L1790.80,339.80 L1791.80,338.99 L1792.80,338.21 L1793.80,337.46 L1794.80,336.75 L1795.80,336.09 L1796.80,335.46 L1797.80,334.88 L1798.80,334.35 L1799.80,333.86 L1800.80,333.41 L1801.80,333.00 L1802.80,332.63 L1803.80,332.30 L1804.80,332.01 L1805.80,331.74 L1806.80,331.51 L1807.80,331.31 L1808.80,331.13 L1809.80,330.98 L1810.80,330.85 L1811.80,330.74 L1812.80,330.64 L1813.80,330.55 L1814.80,330.48 L1815.80,330.42 L1816.80,330.37 L1817.80,330.33 L1818.80,330.29 L1819.80,330.24 L1820.80,330.20 L1821.80,330.16 L1822.80,330.11 L1823.80,330.07 L1824.80,330.03 L1825.80,329.97 L1826.80,329.91 L1827.80,329.84 L1828.80,329.75 L1829.80,329.65 L1830.80,329.53 L1831.80,329.39 L1832.80,329.23 L1833.80,329.05 L1834.80,328.84 L1835.80,328.60 L1836.80,328.33 L1837.80,328.02 L1838.80,327.68 L1839.80,327.29 L1840.80,326.87 L1841.80,326.40 L1842.80,325.89 L1843.80,325.33 L1844.80,324.72 L1845.80,324.08 L1846.80,323.38 L1847.80,322.65 L1848.80,321.87 L1849.80,321.05 L1850.80,320.20 L1851.80,319.33 L1852.80,318.42 L1853.80,317.50 L1854.80,316.56 L1855.80,315.61 L1856.80,314.66 L1857.80,313.71 L1858.80,312.77 L1859.80,311.85 L1860.80,310.95 L1861.80,310.07 L1862.80,309.22 L1863.80,308.41 L1864.80,307.63 L1865.80,306.90 L1866.80,306.21 L1867.80,305.56 L1868.80,304.96 L1869.80,304.40 L1870.80,303.89 L1871.80,303.42 L1872.80,303.00 L1873.80,302.62 L1874.80,302.28 L1875.80,301.98 L1876.80,301.71 L1877.80,301.47 L1878.80,301.26 L1879.80,301.08 L1880.80,300.93 L1881.80,300.79 L1882.80,300.67 L1883.80,300.58 L1884.80,300.49 L1885.80,300.42 L1886.80,300.35 L1887.80,300.28 L1888.80,300.22 L1889.80,300.16 L1890.80,300.11 L1891.80,300.05 L1892.80,299.98 L1893.80,299.91 L1894.80,299.84 L1895.80,299.76 L1896.80,299.66 L1897.80,299.55 L1898.80,299.42 L1899.80,299.27 L1900.80,299.09 L1901.80,298.89 L1902.80,298.66 L1903.80,298.39 L1904.80,298.10 L1905.80,297.76 L1906.80,297.39 L1907.80,296.98 L1908.80,296.53 L1909.80,296.03 L1910.80,295.48 L1911.80,294.90 L1912.80,294.27 L1913.80,293.59 L1914.80,292.88 L1915.80,292.12 L1916.80,291.33 L1917.80,290.50 L1918.80,289.65 L1919.80,288.76 L1920.80,287.86 L1921.80,286.95 L1922.80,286.03 L1923.80,285.10 L1924.80,284.18 L1925.80,283.26 L1926.80,282.36 L1927.80,281.48 L1928.80,280.62 L1929.80,279.80 L1930.80,279.00 L1931.80,278.25 L1932.80,277.53 L1933.80,276.86 L1934.80,276.22 L1935.80,275.64 L1936.80,275.09 L1937.80,274.60 L1938.80,274.14 L1939.80,273.73 L1940.80,273.35 L1941.80,273.02 L1942.80,272.72 L1943.80,272.46 L1944.80,272.23 L1945.80,272.02 L1946.80,271.85 L1947.80,271.69 L1948.80,271.56 L1949.80,271.45 L1950.80,271.35 L1951.80,271.27 L1952.80,271.20 L1953.80,271.14 L1954.80,271.09 L1955.80,271.03 L1956.80,270.98 L1957.80,270.93 L1958.80,270.87 L1959.80,270.82 L1960.80,270.76 L1961.80,270.70 L1962.80,270.64 L1963.80,270.56 L1964.80,270.47 L1965.80,270.36 L1966.80,270.23 L1967.80,270.08 L1968.80,269.91 L1969.80,269.71 L1970.80,269.49 L1971.80,269.23 L1972.80,268.93 L1973.80,268.60 L1974.80,268.22 L1975.80,267.80 L1976.80,267.34 L1977.80,266.83 L1978.80,266.27 L1979.80,265.66 L1980.80,265.00 L1981.80,264.29 L1982.80,263.53 L1983.80,262.73 L1984.80,261.88 L1985.80,260.99 L1986.80,260.06 L1987.80,259.10 L1988.80,258.11 L1989.80,257.10 L1990.80,256.07 L1991.80,255.04 L1992.80,254.00 L1993.80,252.96 L1994.80,251.94 L1995.80,250.93 L1996.80,249.94 L1997.80,248.98 L1998.80,248.06 L1999.80,247.17 L2000.80,246.33 L2001.80,245.53 L2002.80,244.77 L2003.80,244.07 L2004.80,243.41 L2005.80,242.81 L2006.80,242.26 L2007.80,241.75 L2008.80,241.29 L2009.80,240.88 L2010.80,240.52 L2011.80,240.19 L2012.80,239.90 L2013.80,239.65 L2014.80,239.43 L2015.80,239.24 L2016.80,239.07 L2017.80,238.93 L2018.80,238.81 L2019.80,238.71 L2020.80,238.63 L2021.80,238.56 L2022.80,238.50 L2023.80,238.45 L2024.80,238.41 L2025.80,238.38 L2026.80,238.36" stroke="#000" stroke-width="4.0"/>
</g>
<g fill="#00B050"><ellipse cx="79.59" cy="889.84" rx="2.75" ry="3.45"/><ellipse cx="90.42" cy="888.13" rx="2.75" ry="3.45"/><ellipse cx="101.25" cy="886.41" rx="2.75" ry="3.45"/><ellipse cx="112.08" cy="884.67" rx="2.75" ry="3.45"/><ellipse cx="122.91" cy="882.92" rx="2.75" ry="3.45"/><ellipse cx="133.74" cy="881.16" rx="2.75" ry="3.45"/><ellipse cx="144.56" cy="879.39" rx="2.75" ry="3.45"/><ellipse cx="155.39" cy="877.60" rx="2.75" ry="3.45"/><ellipse cx="166.21" cy="875.80" rx="2.75" ry="3.45"/><ellipse cx="177.03" cy="873.99" rx="2.75" ry="3.45"/><ellipse cx="187.85" cy="872.16" rx="2.75" ry="3.45"/><ellipse cx="198.67" cy="870.32" rx="2.75" ry="3.45"/><ellipse cx="209.49" cy="868.47" rx="2.75" ry="3.45"/><ellipse cx="220.31" cy="866.60" rx="2.75" ry="3.45"/><ellipse cx="231.12" cy="864.72" rx="2.75" ry="3.45"/><ellipse cx="241.93" cy="862.83" rx="2.75" ry="3.45"/><ellipse cx="252.74" cy="860.92" rx="2.75" ry="3.45"/><ellipse cx="263.55" cy="859.00" rx="2.75" ry="3.45"/><ellipse cx="274.36" cy="857.06" rx="2.75" ry="3.45"/><ellipse cx="285.17" cy="855.11" rx="2.75" ry="3.45"/><ellipse cx="295.97" cy="853.15" rx="2.75" ry="3.45"/><ellipse cx="306.77" cy="851.17" rx="2.75" ry="3.45"/><ellipse cx="317.58" cy="849.18" rx="2.75" ry="3.45"/><ellipse cx="328.38" cy="847.17" rx="2.75" ry="3.45"/><ellipse cx="339.17" cy="845.15" rx="2.75" ry="3.45"/><ellipse cx="349.97" cy="843.12" rx="2.75" ry="3.45"/><ellipse cx="360.76" cy="841.06" rx="2.75" ry="3.45"/><ellipse cx="371.56" cy="839.00" rx="2.75" ry="3.45"/><ellipse cx="382.35" cy="836.92" rx="2.75" ry="3.45"/><ellipse cx="393.13" cy="834.82" rx="2.75" ry="3.45"/><ellipse cx="403.92" cy="832.71" rx="2.75" ry="3.45"/><ellipse cx="414.71" cy="830.59" rx="2.75" ry="3.45"/><ellipse cx="425.49" cy="828.45" rx="2.75" ry="3.45"/><ellipse cx="436.27" cy="826.29" rx="2.75" ry="3.45"/><ellipse cx="447.05" cy="824.12" rx="2.75" ry="3.45"/><ellipse cx="457.82" cy="821.93" rx="2.75" ry="3.45"/><ellipse cx="468.60" cy="819.73" rx="2.75" ry="3.45"/><ellipse cx="479.37" cy="817.51" rx="2.75" ry="3.45"/><ellipse cx="490.14" cy="815.28" rx="2.75" ry="3.45"/><ellipse cx="500.91" cy="813.03" rx="2.75" ry="3.45"/><ellipse cx="511.67" cy="810.76" rx="2.75" ry="3.45"/><ellipse cx="522.44" cy="808.47" rx="2.75" ry="3.45"/><ellipse cx="533.20" cy="806.18" rx="2.75" ry="3.45"/><ellipse cx="543.96" cy="803.86" rx="2.75" ry="3.45"/><ellipse cx="554.72" cy="801.53" rx="2.75" ry="3.45"/><ellipse cx="565.47" cy="799.18" rx="2.75" ry="3.45"/><ellipse cx="576.22" cy="796.81" rx="2.75" ry="3.45"/><ellipse cx="586.97" cy="794.43" rx="2.75" ry="3.45"/><ellipse cx="597.72" cy="792.03" rx="2.75" ry="3.45"/><ellipse cx="608.46" cy="789.61" rx="2.75" ry="3.45"/><ellipse cx="619.21" cy="787.18" rx="2.75" ry="3.45"/><ellipse cx="629.95" cy="784.73" rx="2.75" ry="3.45"/><ellipse cx="640.68" cy="782.26" rx="2.75" ry="3.45"/><ellipse cx="651.42" cy="779.77" rx="2.75" ry="3.45"/><ellipse cx="662.15" cy="777.27" rx="2.75" ry="3.45"/><ellipse cx="672.88" cy="774.74" rx="2.75" ry="3.45"/><ellipse cx="683.60" cy="772.20" rx="2.75" ry="3.45"/><ellipse cx="694.33" cy="769.65" rx="2.75" ry="3.45"/><ellipse cx="705.05" cy="767.07" rx="2.75" ry="3.45"/><ellipse cx="715.76" cy="764.48" rx="2.75" ry="3.45"/><ellipse cx="726.48" cy="761.86" rx="2.75" ry="3.45"/><ellipse cx="737.19" cy="759.23" rx="2.75" ry="3.45"/><ellipse cx="747.90" cy="756.58" rx="2.75" ry="3.45"/><ellipse cx="758.61" cy="753.92" rx="2.75" ry="3.45"/><ellipse cx="769.31" cy="751.23" rx="2.75" ry="3.45"/><ellipse cx="780.01" cy="748.52" rx="2.75" ry="3.45"/><ellipse cx="790.71" cy="745.80" rx="2.75" ry="3.45"/><ellipse cx="801.40" cy="743.05" rx="2.75" ry="3.45"/><ellipse cx="812.09" cy="740.29" rx="2.75" ry="3.45"/><ellipse cx="822.78" cy="737.51" rx="2.75" ry="3.45"/><ellipse cx="833.46" cy="734.71" rx="2.75" ry="3.45"/><ellipse cx="844.14" cy="731.89" rx="2.75" ry="3.45"/><ellipse cx="854.82" cy="729.04" rx="2.75" ry="3.45"/><ellipse cx="865.49" cy="726.18" rx="2.75" ry="3.45"/><ellipse cx="876.16" cy="723.30" rx="2.75" ry="3.45"/><ellipse cx="886.83" cy="720.40" rx="2.75" ry="3.45"/><ellipse cx="897.49" cy="717.48" rx="2.75" ry="3.45"/><ellipse cx="908.15" cy="714.54" rx="2.75" ry="3.45"/><ellipse cx="918.80" cy="711.57" rx="2.75" ry="3.45"/><ellipse cx="929.46" cy="708.59" rx="2.75" ry="3.45"/><ellipse cx="940.10" cy="705.59" rx="2.75" ry="3.45"/><ellipse cx="950.75" cy="702.56" rx="2.75" ry="3.45"/><ellipse cx="961.39" cy="699.52" rx="2.75" ry="3.45"/><ellipse cx="972.02" cy="696.45" rx="2.75" ry="3.45"/><ellipse cx="982.66" cy="693.36" rx="2.75" ry="3.45"/><ellipse cx="993.29" cy="690.25" rx="2.75" ry="3.45"/><ellipse cx="1003.91" cy="687.12" rx="2.75" ry="3.45"/><ellipse cx="1014.53" cy="683.97" rx="2.75" ry="3.45"/><ellipse cx="1025.15" cy="680.80" rx="2.75" ry="3.45"/><ellipse cx="1035.76" cy="677.60" rx="2.75" ry="3.45"/><ellipse cx="1046.36" cy="674.39" rx="2.75" ry="3.45"/><ellipse cx="1056.97" cy="671.15" rx="2.75" ry="3.45"/><ellipse cx="1067.57" cy="667.89" rx="2.75" ry="3.45"/><ellipse cx="1078.16" cy="664.60" rx="2.75" ry="3.45"/><ellipse cx="1088.75" cy="661.30" rx="2.75" ry="3.45"/><ellipse cx="1099.33" cy="657.97" rx="2.75" ry="3.45"/><ellipse cx="1109.91" cy="654.62" rx="2.75" ry="3.45"/><ellipse cx="1120.49" cy="651.24" rx="2.75" ry="3.45"/><ellipse cx="1131.06" cy="647.85" rx="2.75" ry="3.45"/><ellipse cx="1141.63" cy="644.42" rx="2.75" ry="3.45"/><ellipse cx="1152.19" cy="640.98" rx="2.75" ry="3.45"/><ellipse cx="1162.74" cy="637.52" rx="2.75" ry="3.45"/><ellipse cx="1173.29" cy="634.03" rx="2.75" ry="3.45"/><ellipse cx="1183.84" cy="630.51" rx="2.75" ry="3.45"/><ellipse cx="1194.38" cy="626.98" rx="2.75" ry="3.45"/><ellipse cx="1204.92" cy="623.41" rx="2.75" ry="3.45"/><ellipse cx="1215.45" cy="619.83" rx="2.75" ry="3.45"/><ellipse cx="1225.97" cy="616.22" rx="2.75" ry="3.45"/><ellipse cx="1236.49" cy="612.59" rx="2.75" ry="3.45"/><ellipse cx="1247.01" cy="608.93" rx="2.75" ry="3.45"/><ellipse cx="1257.52" cy="605.25" rx="2.75" ry="3.45"/><ellipse cx="1268.02" cy="601.54" rx="2.75" ry="3.45"/><ellipse cx="1278.52" cy="597.81" rx="2.75" ry="3.45"/><ellipse cx="1289.01" cy="594.06" rx="2.75" ry="3.45"/><ellipse cx="1299.49" cy="590.28" rx="2.75" ry="3.45"/><ellipse cx="1309.97" cy="586.47" rx="2.75" ry="3.45"/><ellipse cx="1320.45" cy="582.64" rx="2.75" ry="3.45"/><ellipse cx="1330.92" cy="578.79" rx="2.75" ry="3.45"/><ellipse cx="1341.38" cy="574.91" rx="2.75" ry="3.45"/><ellipse cx="1351.83" cy="571.00" rx="2.75" ry="3.45"/><ellipse cx="1362.28" cy="567.07" rx="2.75" ry="3.45"/><ellipse cx="1372.73" cy="563.11" rx="2.75" ry="3.45"/><ellipse cx="1383.16" cy="559.13" rx="2.75" ry="3.45"/><ellipse cx="1393.59" cy="555.12" rx="2.75" ry="3.45"/><ellipse cx="1404.02" cy="551.08" rx="2.75" ry="3.45"/><ellipse cx="1414.43" cy="547.02" rx="2.75" ry="3.45"/><ellipse cx="1424.84" cy="542.93" rx="2.75" ry="3.45"/><ellipse cx="1435.25" cy="538.82" rx="2.75" ry="3.45"/><ellipse cx="1445.64" cy="534.67" rx="2.75" ry="3.45"/><ellipse cx="1456.03" cy="530.51" rx="2.75" ry="3.45"/><ellipse cx="1466.42" cy="526.31" rx="2.75" ry="3.45"/><ellipse cx="1476.79" cy="522.09" rx="2.75" ry="3.45"/><ellipse cx="1487.16" cy="517.84" rx="2.75" ry="3.45"/><ellipse cx="1497.52" cy="513.56" rx="2.75" ry="3.45"/><ellipse cx="1507.88" cy="509.26" rx="2.75" ry="3.45"/><ellipse cx="1518.22" cy="504.93" rx="2.75" ry="3.45"/><ellipse cx="1528.56" cy="500.57" rx="2.75" ry="3.45"/><ellipse cx="1538.89" cy="496.19" rx="2.75" ry="3.45"/><ellipse cx="1549.22" cy="491.77" rx="2.75" ry="3.45"/><ellipse cx="1559.53" cy="487.33" rx="2.75" ry="3.45"/><ellipse cx="1569.84" cy="482.86" rx="2.75" ry="3.45"/><ellipse cx="1580.14" cy="478.37" rx="2.75" ry="3.45"/><ellipse cx="1590.43" cy="473.84" rx="2.75" ry="3.45"/><ellipse cx="1600.72" cy="469.29" rx="2.75" ry="3.45"/><ellipse cx="1610.99" cy="464.71" rx="2.75" ry="3.45"/><ellipse cx="1621.26" cy="460.09" rx="2.75" ry="3.45"/><ellipse cx="1631.52" cy="455.45" rx="2.75" ry="3.45"/><ellipse cx="1641.77" cy="450.79" rx="2.75" ry="3.45"/><ellipse cx="1652.01" cy="446.09" rx="2.75" ry="3.45"/><ellipse cx="1662.24" cy="441.36" rx="2.75" ry="3.45"/><ellipse cx="1672.47" cy="436.61" rx="2.75" ry="3.45"/><ellipse cx="1682.69" cy="431.83" rx="2.75" ry="3.45"/><ellipse cx="1692.89" cy="427.01" rx="2.75" ry="3.45"/><ellipse cx="1703.09" cy="422.17" rx="2.75" ry="3.45"/><ellipse cx="1713.28" cy="417.30" rx="2.75" ry="3.45"/><ellipse cx="1723.46" cy="412.40" rx="2.75" ry="3.45"/><ellipse cx="1733.63" cy="407.46" rx="2.75" ry="3.45"/><ellipse cx="1743.79" cy="402.50" rx="2.75" ry="3.45"/><ellipse cx="1753.94" cy="397.51" rx="2.75" ry="3.45"/><ellipse cx="1764.08" cy="392.49" rx="2.75" ry="3.45"/><ellipse cx="1774.21" cy="387.44" rx="2.75" ry="3.45"/><ellipse cx="1784.34" cy="382.36" rx="2.75" ry="3.45"/><ellipse cx="1794.45" cy="377.25" rx="2.75" ry="3.45"/><ellipse cx="1804.55" cy="372.11" rx="2.75" ry="3.45"/><ellipse cx="1814.64" cy="366.94" rx="2.75" ry="3.45"/><ellipse cx="1824.72" cy="361.73" rx="2.75" ry="3.45"/><ellipse cx="1834.80" cy="356.50" rx="2.75" ry="3.45"/><ellipse cx="1844.86" cy="351.24" rx="2.75" ry="3.45"/><ellipse cx="1854.91" cy="345.94" rx="2.75" ry="3.45"/><ellipse cx="1864.95" cy="340.62" rx="2.75" ry="3.45"/><ellipse cx="1874.98" cy="335.26" rx="2.75" ry="3.45"/><ellipse cx="1885.00" cy="329.88" rx="2.75" ry="3.45"/><ellipse cx="1895.00" cy="324.46" rx="2.75" ry="3.45"/><ellipse cx="1905.00" cy="319.01" rx="2.75" ry="3.45"/><ellipse cx="1914.99" cy="313.53" rx="2.75" ry="3.45"/><ellipse cx="1924.96" cy="308.02" rx="2.75" ry="3.45"/><ellipse cx="1934.92" cy="302.48" rx="2.75" ry="3.45"/><ellipse cx="1944.88" cy="296.90" rx="2.75" ry="3.45"/><ellipse cx="1954.82" cy="291.30" rx="2.75" ry="3.45"/><ellipse cx="1964.75" cy="285.66" rx="2.75" ry="3.45"/><ellipse cx="1974.66" cy="279.99" rx="2.75" ry="3.45"/><ellipse cx="1984.57" cy="274.29" rx="2.75" ry="3.45"/><ellipse cx="1994.46" cy="268.56" rx="2.75" ry="3.45"/><ellipse cx="2004.34" cy="262.80" rx="2.75" ry="3.45"/><ellipse cx="2014.21" cy="257.00" rx="2.75" ry="3.45"/><ellipse cx="2024.07" cy="251.17" rx="2.75" ry="3.45"/><ellipse cx="79.59" cy="953.71" rx="2.75" ry="3.45"/><ellipse cx="90.47" cy="952.46" rx="2.75" ry="3.45"/><ellipse cx="101.34" cy="951.21" rx="2.75" ry="3.45"/><ellipse cx="112.21" cy="949.95" rx="2.75" ry="3.45"/><ellipse cx="123.09" cy="948.68" rx="2.75" ry="3.45"/><ellipse cx="133.96" cy="947.40" rx="2.75" ry="3.45"/><ellipse cx="144.83" cy="946.11" rx="2.75" ry="3.45"/><ellipse cx="155.70" cy="944.82" rx="2.75" ry="3.45"/><ellipse cx="166.57" cy="943.51" rx="2.75" ry="3.45"/><ellipse cx="177.43" cy="942.19" rx="2.75" ry="3.45"/><ellipse cx="188.30" cy="940.87" rx="2.75" ry="3.45"/><ellipse cx="199.17" cy="939.53" rx="2.75" ry="3.45"/><ellipse cx="210.03" cy="938.18" rx="2.75" ry="3.45"/><ellipse cx="220.90" cy="936.83" rx="2.75" ry="3.45"/><ellipse cx="231.76" cy="935.46" rx="2.75" ry="3.45"/><ellipse cx="242.63" cy="934.08" rx="2.75" ry="3.45"/><ellipse cx="253.49" cy="932.70" rx="2.75" ry="3.45"/><ellipse cx="264.35" cy="931.30" rx="2.75" ry="3.45"/><ellipse cx="275.21" cy="929.89" rx="2.75" ry="3.45"/><ellipse cx="286.07" cy="928.47" rx="2.75" ry="3.45"/><ellipse cx="296.93" cy="927.05" rx="2.75" ry="3.45"/><ellipse cx="307.79" cy="925.61" rx="2.75" ry="3.45"/><ellipse cx="318.65" cy="924.16" rx="2.75" ry="3.45"/><ellipse cx="329.50" cy="922.70" rx="2.75" ry="3.45"/><ellipse cx="340.36" cy="921.23" rx="2.75" ry="3.45"/><ellipse cx="351.21" cy="919.75" rx="2.75" ry="3.45"/><ellipse cx="362.07" cy="918.26" rx="2.75" ry="3.45"/><ellipse cx="372.92" cy="916.75" rx="2.75" ry="3.45"/><ellipse cx="383.77" cy="915.24" rx="2.75" ry="3.45"/><ellipse cx="394.62" cy="913.71" rx="2.75" ry="3.45"/><ellipse cx="405.47" cy="912.18" rx="2.75" ry="3.45"/><ellipse cx="416.32" cy="910.63" rx="2.75" ry="3.45"/><ellipse cx="427.17" cy="909.07" rx="2.75" ry="3.45"/><ellipse cx="438.01" cy="907.50" rx="2.75" ry="3.45"/><ellipse cx="448.86" cy="905.92" rx="2.75" ry="3.45"/><ellipse cx="459.70" cy="904.32" rx="2.75" ry="3.45"/><ellipse cx="470.55" cy="902.72" rx="2.75" ry="3.45"/><ellipse cx="481.39" cy="901.10" rx="2.75" ry="3.45"/><ellipse cx="492.23" cy="899.47" rx="2.75" ry="3.45"/><ellipse cx="503.07" cy="897.83" rx="2.75" ry="3.45"/><ellipse cx="513.91" cy="896.18" rx="2.75" ry="3.45"/><ellipse cx="524.74" cy="894.51" rx="2.75" ry="3.45"/><ellipse cx="535.58" cy="892.84" rx="2.75" ry="3.45"/><ellipse cx="546.41" cy="891.15" rx="2.75" ry="3.45"/><ellipse cx="557.25" cy="889.45" rx="2.75" ry="3.45"/><ellipse cx="568.08" cy="887.73" rx="2.75" ry="3.45"/><ellipse cx="578.91" cy="886.01" rx="2.75" ry="3.45"/><ellipse cx="589.74" cy="884.27" rx="2.75" ry="3.45"/><ellipse cx="600.57" cy="882.52" rx="2.75" ry="3.45"/><ellipse cx="611.40" cy="880.75" rx="2.75" ry="3.45"/><ellipse cx="622.22" cy="878.97" rx="2.75" ry="3.45"/><ellipse cx="633.04" cy="877.18" rx="2.75" ry="3.45"/><ellipse cx="643.87" cy="875.38" rx="2.75" ry="3.45"/><ellipse cx="654.69" cy="873.56" rx="2.75" ry="3.45"/><ellipse cx="665.51" cy="871.73" rx="2.75" ry="3.45"/><ellipse cx="676.33" cy="869.89" rx="2.75" ry="3.45"/><ellipse cx="687.14" cy="868.03" rx="2.75" ry="3.45"/><ellipse cx="697.96" cy="866.16" rx="2.75" ry="3.45"/><ellipse cx="708.77" cy="864.28" rx="2.75" ry="3.45"/><ellipse cx="719.59" cy="862.38" rx="2.75" ry="3.45"/><ellipse cx="730.40" cy="860.47" rx="2.75" ry="3.45"/><ellipse cx="741.21" cy="858.55" rx="2.75" ry="3.45"/><ellipse cx="752.01" cy="856.61" rx="2.75" ry="3.45"/><ellipse cx="762.82" cy="854.66" rx="2.75" ry="3.45"/><ellipse cx="773.62" cy="852.69" rx="2.75" ry="3.45"/><ellipse cx="784.43" cy="850.71" rx="2.75" ry="3.45"/><ellipse cx="795.23" cy="848.71" rx="2.75" ry="3.45"/><ellipse cx="806.02" cy="846.70" rx="2.75" ry="3.45"/><ellipse cx="816.82" cy="844.68" rx="2.75" ry="3.45"/><ellipse cx="827.62" cy="842.64" rx="2.75" ry="3.45"/><ellipse cx="838.41" cy="840.59" rx="2.75" ry="3.45"/><ellipse cx="849.20" cy="838.52" rx="2.75" ry="3.45"/><ellipse cx="859.99" cy="836.43" rx="2.75" ry="3.45"/><ellipse cx="870.78" cy="834.34" rx="2.75" ry="3.45"/><ellipse cx="881.57" cy="832.22" rx="2.75" ry="3.45"/><ellipse cx="892.35" cy="830.09" rx="2.75" ry="3.45"/><ellipse cx="903.13" cy="827.95" rx="2.75" ry="3.45"/><ellipse cx="913.91" cy="825.79" rx="2.75" ry="3.45"/><ellipse cx="924.69" cy="823.61" rx="2.75" ry="3.45"/><ellipse cx="935.47" cy="821.42" rx="2.75" ry="3.45"/><ellipse cx="946.24" cy="819.21" rx="2.75" ry="3.45"/><ellipse cx="957.01" cy="816.99" rx="2.75" ry="3.45"/><ellipse cx="967.78" cy="814.75" rx="2.75" ry="3.45"/><ellipse cx="978.55" cy="812.50" rx="2.75" ry="3.45"/><ellipse cx="989.32" cy="810.23" rx="2.75" ry="3.45"/><ellipse cx="1000.08" cy="807.94" rx="2.75" ry="3.45"/><ellipse cx="1010.84" cy="805.64" rx="2.75" ry="3.45"/><ellipse cx="1021.60" cy="803.32" rx="2.75" ry="3.45"/><ellipse cx="1032.36" cy="800.98" rx="2.75" ry="3.45"/><ellipse cx="1043.11" cy="798.63" rx="2.75" ry="3.45"/><ellipse cx="1053.86" cy="796.26" rx="2.75" ry="3.45"/><ellipse cx="1064.61" cy="793.87" rx="2.75" ry="3.45"/><ellipse cx="1075.36" cy="791.47" rx="2.75" ry="3.45"/><ellipse cx="1086.10" cy="789.05" rx="2.75" ry="3.45"/><ellipse cx="1096.84" cy="786.61" rx="2.75" ry="3.45"/><ellipse cx="1107.58" cy="784.15" rx="2.75" ry="3.45"/><ellipse cx="1118.32" cy="781.68" rx="2.75" ry="3.45"/><ellipse cx="1129.05" cy="779.19" rx="2.75" ry="3.45"/><ellipse cx="1139.78" cy="776.68" rx="2.75" ry="3.45"/><ellipse cx="1150.51" cy="774.16" rx="2.75" ry="3.45"/><ellipse cx="1161.24" cy="771.61" rx="2.75" ry="3.45"/><ellipse cx="1171.96" cy="769.05" rx="2.75" ry="3.45"/><ellipse cx="1182.68" cy="766.47" rx="2.75" ry="3.45"/><ellipse cx="1193.40" cy="763.87" rx="2.75" ry="3.45"/><ellipse cx="1204.11" cy="761.25" rx="2.75" ry="3.45"/><ellipse cx="1214.82" cy="758.62" rx="2.75" ry="3.45"/><ellipse cx="1225.53" cy="755.97" rx="2.75" ry="3.45"/><ellipse cx="1236.23" cy="753.29" rx="2.75" ry="3.45"/><ellipse cx="1246.94" cy="750.60" rx="2.75" ry="3.45"/><ellipse cx="1257.64" cy="747.89" rx="2.75" ry="3.45"/><ellipse cx="1268.33" cy="745.16" rx="2.75" ry="3.45"/><ellipse cx="1279.02" cy="742.41" rx="2.75" ry="3.45"/><ellipse cx="1289.71" cy="739.65" rx="2.75" ry="3.45"/><ellipse cx="1300.40" cy="736.86" rx="2.75" ry="3.45"/><ellipse cx="1311.08" cy="734.05" rx="2.75" ry="3.45"/><ellipse cx="1321.76" cy="731.23" rx="2.75" ry="3.45"/><ellipse cx="1332.44" cy="728.38" rx="2.75" ry="3.45"/><ellipse cx="1343.11" cy="725.51" rx="2.75" ry="3.45"/><ellipse cx="1353.78" cy="722.63" rx="2.75" ry="3.45"/><ellipse cx="1364.45" cy="719.72" rx="2.75" ry="3.45"/><ellipse cx="1375.11" cy="716.80" rx="2.75" ry="3.45"/><ellipse cx="1385.77" cy="713.85" rx="2.75" ry="3.45"/><ellipse cx="1396.42" cy="710.88" rx="2.75" ry="3.45"/><ellipse cx="1407.07" cy="707.89" rx="2.75" ry="3.45"/><ellipse cx="1417.72" cy="704.89" rx="2.75" ry="3.45"/><ellipse cx="1428.36" cy="701.86" rx="2.75" ry="3.45"/><ellipse cx="1439.00" cy="698.81" rx="2.75" ry="3.45"/><ellipse cx="1449.64" cy="695.74" rx="2.75" ry="3.45"/><ellipse cx="1460.27" cy="692.64" rx="2.75" ry="3.45"/><ellipse cx="1470.89" cy="689.53" rx="2.75" ry="3.45"/><ellipse cx="1481.52" cy="686.39" rx="2.75" ry="3.45"/><ellipse cx="1492.14" cy="683.24" rx="2.75" ry="3.45"/><ellipse cx="1502.75" cy="680.06" rx="2.75" ry="3.45"/><ellipse cx="1513.36" cy="676.86" rx="2.75" ry="3.45"/><ellipse cx="1523.97" cy="673.63" rx="2.75" ry="3.45"/><ellipse cx="1534.57" cy="670.39" rx="2.75" ry="3.45"/><ellipse cx="1545.17" cy="667.12" rx="2.75" ry="3.45"/><ellipse cx="1555.76" cy="663.84" rx="2.75" ry="3.45"/><ellipse cx="1566.35" cy="660.52" rx="2.75" ry="3.45"/><ellipse cx="1576.93" cy="657.19" rx="2.75" ry="3.45"/><ellipse cx="1587.51" cy="653.83" rx="2.75" ry="3.45"/><ellipse cx="1598.09" cy="650.45" rx="2.75" ry="3.45"/><ellipse cx="1608.66" cy="647.05" rx="2.75" ry="3.45"/><ellipse cx="1619.22" cy="643.63" rx="2.75" ry="3.45"/><ellipse cx="1629.78" cy="640.18" rx="2.75" ry="3.45"/><ellipse cx="1640.34" cy="636.71" rx="2.75" ry="3.45"/><ellipse cx="1650.89" cy="633.21" rx="2.75" ry="3.45"/><ellipse cx="1661.43" cy="629.69" rx="2.75" ry="3.45"/><ellipse cx="1671.97" cy="626.15" rx="2.75" ry="3.45"/><ellipse cx="1682.51" cy="622.58" rx="2.75" ry="3.45"/><ellipse cx="1693.03" cy="618.99" rx="2.75" ry="3.45"/><ellipse cx="1703.56" cy="615.38" rx="2.75" ry="3.45"/><ellipse cx="1714.08" cy="611.74" rx="2.75" ry="3.45"/><ellipse cx="1724.59" cy="608.08" rx="2.75" ry="3.45"/><ellipse cx="1735.10" cy="604.39" rx="2.75" ry="3.45"/><ellipse cx="1745.60" cy="600.68" rx="2.75" ry="3.45"/><ellipse cx="1756.09" cy="596.94" rx="2.75" ry="3.45"/><ellipse cx="1766.59" cy="593.18" rx="2.75" ry="3.45"/><ellipse cx="1777.07" cy="589.40" rx="2.75" ry="3.45"/><ellipse cx="1787.55" cy="585.58" rx="2.75" ry="3.45"/><ellipse cx="1798.02" cy="581.75" rx="2.75" ry="3.45"/><ellipse cx="1808.49" cy="577.89" rx="2.75" ry="3.45"/><ellipse cx="1818.95" cy="574.00" rx="2.75" ry="3.45"/><ellipse cx="1829.40" cy="570.09" rx="2.75" ry="3.45"/><ellipse cx="1839.85" cy="566.15" rx="2.75" ry="3.45"/><ellipse cx="1850.29" cy="562.19" rx="2.75" ry="3.45"/><ellipse cx="1860.73" cy="558.20" rx="2.75" ry="3.45"/><ellipse cx="1871.16" cy="554.18" rx="2.75" ry="3.45"/><ellipse cx="1881.58" cy="550.14" rx="2.75" ry="3.45"/><ellipse cx="1891.99" cy="546.07" rx="2.75" ry="3.45"/><ellipse cx="1902.40" cy="541.98" rx="2.75" ry="3.45"/><ellipse cx="1912.80" cy="537.85" rx="2.75" ry="3.45"/><ellipse cx="1923.20" cy="533.71" rx="2.75" ry="3.45"/><ellipse cx="1933.59" cy="529.53" rx="2.75" ry="3.45"/><ellipse cx="1943.97" cy="525.33" rx="2.75" ry="3.45"/><ellipse cx="1954.34" cy="521.10" rx="2.75" ry="3.45"/><ellipse cx="1964.71" cy="516.85" rx="2.75" ry="3.45"/><ellipse cx="1975.07" cy="512.57" rx="2.75" ry="3.45"/><ellipse cx="1985.42" cy="508.26" rx="2.75" ry="3.45"/><ellipse cx="1995.77" cy="503.92" rx="2.75" ry="3.45"/><ellipse cx="2006.10" cy="499.56" rx="2.75" ry="3.45"/><ellipse cx="2016.43" cy="495.16" rx="2.75" ry="3.45"/><ellipse cx="2026.75" cy="490.74" rx="2.75" ry="3.45"/></g>
<g transform="scale(1,1.24)" fill="none" stroke-linejoin="round" stroke-linecap="round">
<path d="M78.30,745.72 L84.80,745.02 L91.29,744.32 L97.78,743.61 L104.28,742.90 L110.78,742.19 L117.27,741.47 L123.77,740.75 L130.26,740.03 L136.75,739.30 L143.25,738.57 L149.75,737.84 L156.24,737.10 L162.74,736.36 L169.23,735.62 L175.72,734.87 L182.22,734.12 L188.72,733.37 L195.21,732.61 L201.70,731.85 L208.20,731.09 L214.69,730.32 L221.19,729.55 L227.69,728.78 L234.18,728.00 L240.68,727.22 L247.17,726.44 L253.67,725.65 L260.16,724.86 L266.65,724.07 L273.15,723.27 L279.64,722.47 L286.14,721.67 L292.63,720.86 L299.13,720.05 L305.62,719.23 L312.12,718.41 L318.62,717.59 L325.11,716.76 L331.61,715.93 L338.10,715.10 L344.60,714.26 L351.09,713.42 L357.59,712.58 L364.08,711.73 L370.57,710.88 L377.07,710.02 L383.56,709.16 L390.06,708.30 L396.56,707.43 L403.05,706.56 L409.55,705.68 L416.04,704.80 L422.54,703.92 L429.03,703.03 L435.53,702.14 L442.02,701.25 L448.51,700.35 L455.01,699.45 L461.50,698.54 L468.00,697.63 L474.50,696.71 L480.99,695.79 L487.49,694.87 L493.98,693.94 L500.48,693.01 L506.97,692.08 L513.47,691.14 L519.96,690.19 L526.45,689.25 L532.95,688.29 L539.44,687.34 L545.94,686.38 L552.43,685.41 L558.93,684.44 L565.42,683.47 L571.92,682.49 L578.41,681.51 L584.91,680.52 L591.40,679.53 L597.90,678.54 L604.39,677.54 L610.89,676.53 L617.38,675.52 L623.88,674.51 L630.38,673.49 L636.87,672.47 L643.37,671.44 L649.86,670.41 L656.35,669.38 L662.85,668.34 L669.34,667.29 L675.84,666.24 L682.33,665.19 L688.83,664.13 L695.32,663.06 L701.82,662.00 L708.31,660.92 L714.81,659.85 L721.30,658.76 L727.80,657.68 L734.29,656.58 L740.79,655.49 L747.28,654.38 L753.78,653.28 L760.27,652.16 L766.77,651.05 L773.26,649.93 L779.76,648.80 L786.25,647.67 L792.75,646.53 L799.25,645.39 L805.74,644.24 L812.23,643.09 L818.73,641.93 L825.22,640.77 L831.72,639.60 L838.21,638.43 L844.71,637.25 L851.20,636.07 L857.70,634.88 L864.19,633.69 L870.69,632.49 L877.18,631.28 L883.68,630.07 L890.17,628.86 L896.67,627.64 L903.16,626.41 L909.66,625.18 L916.15,623.94 L922.65,622.70 L929.14,621.45 L935.64,620.20 L942.13,618.94 L948.63,617.68 L955.12,616.41 L961.62,615.13 L968.12,613.85 L974.61,612.56 L981.10,611.27 L987.60,609.97 L994.09,608.67 L1000.59,607.36 L1007.08,606.04 L1013.58,604.72 L1020.07,603.39 L1026.57,602.06 L1033.07,600.72 L1039.56,599.37 L1046.06,598.02 L1052.55,596.67 L1059.05,595.30 L1065.54,593.93 L1072.04,592.56 L1078.53,591.18 L1085.03,589.79 L1091.52,588.39 L1098.02,586.99 L1104.51,585.59 L1111.00,584.17 L1117.50,582.76 L1123.99,581.33 L1130.49,579.90 L1136.98,578.46 L1143.48,577.02 L1149.97,575.57 L1156.47,574.11 L1162.96,572.65 L1169.46,571.18 L1175.95,569.70 L1182.45,568.22 L1188.94,566.73 L1195.44,565.23 L1201.93,563.73 L1208.43,562.22 L1214.92,560.70 L1221.42,559.18 L1227.91,557.65 L1234.41,556.11 L1240.90,554.57 L1247.40,553.02 L1253.89,551.46 L1260.39,549.89 L1266.88,548.32 L1273.38,546.75 L1279.88,545.16 L1286.37,543.57 L1292.87,541.97 L1299.36,540.36 L1305.86,538.75 L1312.35,537.13 L1318.85,535.50 L1325.34,533.87 L1331.84,532.22 L1338.33,530.57 L1344.83,528.92 L1351.32,527.25 L1357.82,525.58 L1364.31,523.90 L1370.81,522.21 L1377.30,520.52 L1383.79,518.82 L1390.29,517.11 L1396.78,515.39 L1403.28,513.67 L1409.77,511.94 L1416.27,510.20 L1422.76,508.45 L1429.26,506.69 L1435.75,504.93 L1442.25,503.16 L1448.74,501.38 L1455.24,499.59 L1461.73,497.80 L1468.23,496.00 L1474.72,494.19 L1481.22,492.37 L1487.71,490.54 L1494.21,488.71 L1500.70,486.86 L1507.20,485.01 L1513.69,483.15 L1520.19,481.29 L1526.68,479.41 L1533.18,477.53 L1539.67,475.63 L1546.17,473.73 L1552.66,471.82 L1559.16,469.90 L1565.65,467.98 L1572.15,466.04 L1578.64,464.10 L1585.14,462.15 L1591.63,460.19 L1598.13,458.22 L1604.62,456.24 L1611.12,454.25 L1617.62,452.25 L1624.11,450.25 L1630.61,448.24 L1637.10,446.21 L1643.60,444.18 L1650.09,442.14 L1656.59,440.09 L1663.08,438.03 L1669.58,435.96 L1676.07,433.89 L1682.57,431.80 L1689.06,429.70 L1695.56,427.60 L1702.05,425.48 L1708.54,423.36 L1715.04,421.23 L1721.53,419.09 L1728.03,416.93 L1734.52,414.77 L1741.02,412.60 L1747.51,410.42 L1754.01,408.23 L1760.50,406.03 L1767.00,403.82 L1773.49,401.60 L1779.99,399.37 L1786.48,397.13 L1792.98,394.88 L1799.47,392.62 L1805.97,390.35 L1812.46,388.07 L1818.96,385.78 L1825.45,383.48 L1831.95,381.17 L1838.44,378.85 L1844.94,376.52 L1851.43,374.17 L1857.93,371.82 L1864.42,369.46 L1870.92,367.09 L1877.41,364.71 L1883.91,362.31 L1890.40,359.91 L1896.90,357.49 L1903.39,355.07 L1909.89,352.63 L1916.38,350.18 L1922.88,347.72 L1929.38,345.25 L1935.87,342.77 L1942.37,340.28 L1948.86,337.78 L1955.36,335.27 L1961.85,332.74 L1968.35,330.21 L1974.84,327.66 L1981.34,325.10 L1987.83,322.53 L1994.33,319.95 L2000.82,317.36 L2007.32,314.75 L2013.81,312.14 L2020.31,309.51 L2026.80,306.87" stroke="#00B050" stroke-width="5.5"/>
<path d="M78.30,720.16 L100.20,720.16 L101.40,717.42 L167.90,716.85 L169.10,714.11 L235.20,713.15 L236.40,709.60 L303.40,708.87 L304.60,704.52 L370.40,703.47 L371.60,698.95 L439.00,697.98 L440.20,692.98 L501.90,692.26 L503.10,686.94 L571.90,686.21 L573.10,680.81 L639.20,680.08 L640.40,674.27 L704.60,673.47 L705.80,667.66 L772.50,666.77 L773.70,659.68 L840.00,659.03 L841.20,651.94 L909.10,650.56 L910.30,643.55 L976.40,642.66 L977.60,635.00 L1042.50,634.11 L1043.70,623.79 L1111.10,622.58 L1112.30,611.94 L1178.40,610.81 L1179.60,596.45 L1244.20,595.16 L1245.40,577.10 L1313.00,576.05 L1314.20,555.81 L1380.20,554.76 L1381.40,532.90 L1446.10,532.02 L1447.30,506.61 L1514.20,505.81 L1515.40,477.82 L1582.10,477.10 L1583.30,447.82 L1652.10,447.34 L1653.30,418.79 L1662.20,418.79 L1663.40,388.71 L1720.00,388.39 L1721.20,359.35 L1784.10,358.79 L1785.30,330.56 L1855.20,329.84 L1856.40,300.40 L1922.70,299.92 L1923.90,271.21 L1991.60,270.65 L1992.80,238.31 L2026.80,238.31" stroke="#FF0000" stroke-width="5.6"/>
</g>
</g>
</svg>
</body></html>
